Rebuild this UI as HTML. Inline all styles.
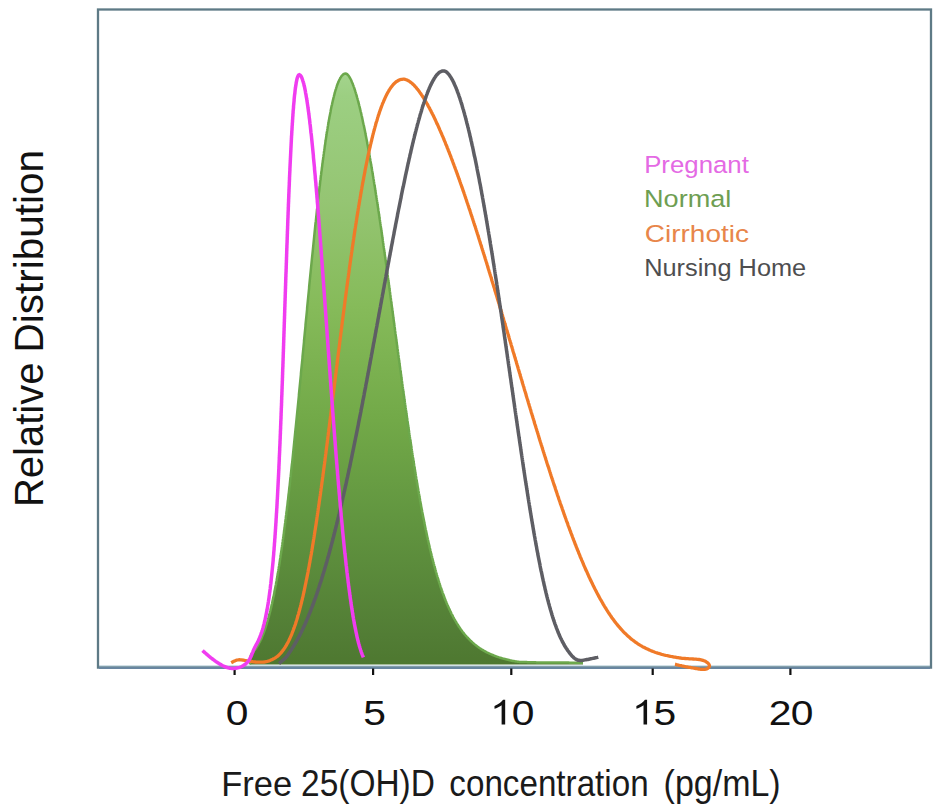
<!DOCTYPE html>
<html><head><meta charset="utf-8"><style>
html,body{margin:0;padding:0;background:#fff;}
svg{display:block;font-family:"Liberation Sans",sans-serif;}
</style></head><body>
<svg width="945" height="811" viewBox="0 0 945 811">
<defs>
<linearGradient id="gg" x1="0" y1="72" x2="0" y2="665" gradientUnits="userSpaceOnUse">
<stop offset="0" stop-color="#a4d48e"/>
<stop offset="0.04" stop-color="#9ccf82"/>
<stop offset="0.216" stop-color="#95c573"/>
<stop offset="0.393" stop-color="#86bb5a"/>
<stop offset="0.587" stop-color="#72a948"/>
<stop offset="0.747" stop-color="#629640"/>
<stop offset="0.949" stop-color="#527d35"/>
<stop offset="1" stop-color="#4e7830"/>
</linearGradient>
</defs>
<rect x="0" y="0" width="945" height="811" fill="#fff"/>
<path d="M250.0,664.5 L250.0,663.5 L250.1,662.5 L250.1,661.5 L250.1,660.5 L250.1,659.5 L250.2,658.5 L250.3,657.5 L250.5,656.6 L250.8,655.7 L251.1,654.9 L251.6,654.0 L252.1,653.3 L252.7,652.5 L253.3,651.8 L253.9,651.0 L254.5,650.3 L255.1,649.5 L255.7,648.7 L256.3,647.8 L256.8,647.0 L257.4,646.1 L257.9,645.3 L258.4,644.4 L258.8,643.5 L259.3,642.7 L259.8,641.8 L260.2,640.9 L260.6,640.0 L261.1,639.1 L261.5,638.2 L261.9,637.2 L262.3,636.3 L262.6,635.4 L263.0,634.5 L263.4,633.5 L263.7,632.6 L264.1,631.7 L264.4,630.7 L264.8,629.8 L265.1,628.8 L265.4,627.9 L265.7,626.9 L266.0,626.0 L266.3,625.0 L266.6,624.1 L266.9,623.1 L267.2,622.2 L267.5,621.2 L267.8,620.2 L268.1,619.3 L268.3,618.3 L268.6,617.4 L268.9,616.4 L269.1,615.4 L269.4,614.5 L269.6,613.5 L269.9,612.5 L270.1,611.6 L270.4,610.6 L270.6,609.6 L270.8,608.6 L271.1,607.7 L271.3,606.7 L271.5,605.7 L271.7,604.7 L272.0,603.8 L272.2,602.8 L272.4,601.8 L272.6,600.8 L272.8,599.9 L273.0,598.9 L273.2,597.9 L273.5,596.9 L273.7,596.0 L273.9,595.0 L274.1,594.0 L274.3,593.0 L274.4,592.0 L274.6,591.0 L274.8,590.1 L275.0,589.1 L275.2,588.1 L275.4,587.1 L275.6,586.1 L275.8,585.2 L276.0,584.2 L276.1,583.2 L276.3,582.2 L276.5,581.2 L276.7,580.2 L276.8,579.3 L277.0,578.3 L277.2,577.3 L277.4,576.3 L277.5,575.3 L277.7,574.3 L277.9,573.3 L278.0,572.4 L278.2,571.4 L278.4,570.4 L278.5,569.4 L278.7,568.4 L278.8,567.4 L279.0,566.4 L279.2,565.4 L279.3,564.5 L279.5,563.5 L279.6,562.5 L279.8,561.5 L279.9,560.5 L280.1,559.5 L280.2,558.5 L280.4,557.5 L280.5,556.6 L280.7,555.6 L280.8,554.6 L281.0,553.6 L281.1,552.6 L281.3,551.6 L281.4,550.6 L281.6,549.6 L281.7,548.6 L281.8,547.6 L282.0,546.7 L282.1,545.7 L282.3,544.7 L282.4,543.7 L282.5,542.7 L282.7,541.7 L282.8,540.7 L282.9,539.7 L283.1,538.7 L283.2,537.7 L283.4,536.8 L283.5,535.8 L283.6,534.8 L283.8,533.8 L283.9,532.8 L284.0,531.8 L284.1,530.8 L284.3,529.8 L284.4,528.8 L284.5,527.8 L284.7,526.8 L284.8,525.8 L284.9,524.9 L285.0,523.9 L285.2,522.9 L285.3,521.9 L285.4,520.9 L285.5,519.9 L285.7,518.9 L285.8,517.9 L285.9,516.9 L286.0,515.9 L286.2,514.9 L286.3,513.9 L286.4,512.9 L286.5,512.0 L286.7,511.0 L286.8,510.0 L286.9,509.0 L287.0,508.0 L287.1,507.0 L287.3,506.0 L287.4,505.0 L287.5,504.0 L287.6,503.0 L287.7,502.0 L287.8,501.0 L288.0,500.0 L288.1,499.0 L288.2,498.1 L288.3,497.1 L288.4,496.1 L288.5,495.1 L288.6,494.1 L288.8,493.1 L288.9,492.1 L289.0,491.1 L289.1,490.1 L289.2,489.1 L289.3,488.1 L289.4,487.1 L289.6,486.1 L289.7,485.1 L289.8,484.1 L289.9,483.1 L290.0,482.2 L290.1,481.2 L290.2,480.2 L290.3,479.2 L290.4,478.2 L290.5,477.2 L290.7,476.2 L290.8,475.2 L290.9,474.2 L291.0,473.2 L291.1,472.2 L291.2,471.2 L291.3,470.2 L291.4,469.2 L291.5,468.2 L291.6,467.2 L291.7,466.2 L291.8,465.3 L291.9,464.3 L292.1,463.3 L292.2,462.3 L292.3,461.3 L292.4,460.3 L292.5,459.3 L292.6,458.3 L292.7,457.3 L292.8,456.3 L292.9,455.3 L293.0,454.3 L293.1,453.3 L293.2,452.3 L293.3,451.3 L293.4,450.3 L293.5,449.3 L293.6,448.3 L293.7,447.4 L293.8,446.4 L293.9,445.4 L294.0,444.4 L294.1,443.4 L294.2,442.4 L294.3,441.4 L294.4,440.4 L294.5,439.4 L294.6,438.4 L294.7,437.4 L294.8,436.4 L294.9,435.4 L295.0,434.4 L295.1,433.4 L295.2,432.4 L295.3,431.4 L295.4,430.4 L295.5,429.4 L295.6,428.5 L295.7,427.5 L295.8,426.5 L295.9,425.5 L296.0,424.5 L296.1,423.5 L296.2,422.5 L296.3,421.5 L296.4,420.5 L296.5,419.5 L296.6,418.5 L296.7,417.5 L296.8,416.5 L296.9,415.5 L297.0,414.5 L297.1,413.5 L297.2,412.5 L297.3,411.5 L297.4,410.5 L297.5,409.5 L297.6,408.5 L297.7,407.6 L297.8,406.6 L297.9,405.6 L298.0,404.6 L298.1,403.6 L298.2,402.6 L298.3,401.6 L298.4,400.6 L298.5,399.6 L298.6,398.6 L298.7,397.6 L298.8,396.6 L298.9,395.6 L298.9,394.6 L299.0,393.6 L299.1,392.6 L299.2,391.6 L299.3,390.6 L299.4,389.6 L299.5,388.6 L299.6,387.6 L299.7,386.6 L299.8,385.7 L299.9,384.7 L300.0,383.7 L300.1,382.7 L300.2,381.7 L300.3,380.7 L300.4,379.7 L300.5,378.7 L300.6,377.7 L300.7,376.7 L300.8,375.7 L300.9,374.7 L300.9,373.7 L301.0,372.7 L301.1,371.7 L301.2,370.7 L301.3,369.7 L301.4,368.7 L301.5,367.7 L301.6,366.7 L301.7,365.7 L301.8,364.7 L301.9,363.8 L302.0,362.8 L302.1,361.8 L302.2,360.8 L302.3,359.8 L302.4,358.8 L302.5,357.8 L302.5,356.8 L302.6,355.8 L302.7,354.8 L302.8,353.8 L302.9,352.8 L303.0,351.8 L303.1,350.8 L303.2,349.8 L303.3,348.8 L303.4,347.8 L303.5,346.8 L303.6,345.8 L303.7,344.8 L303.8,343.8 L303.9,342.8 L304.0,341.8 L304.0,340.9 L304.1,339.9 L304.2,338.9 L304.3,337.9 L304.4,336.9 L304.5,335.9 L304.6,334.9 L304.7,333.9 L304.8,332.9 L304.9,331.9 L305.0,330.9 L305.1,329.9 L305.2,328.9 L305.3,327.9 L305.4,326.9 L305.5,325.9 L305.5,324.9 L305.6,323.9 L305.7,322.9 L305.8,321.9 L305.9,320.9 L306.0,319.9 L306.1,319.0 L306.2,318.0 L306.3,317.0 L306.4,316.0 L306.5,315.0 L306.6,314.0 L306.7,313.0 L306.8,312.0 L306.9,311.0 L307.0,310.0 L307.1,309.0 L307.1,308.0 L307.2,307.0 L307.3,306.0 L307.4,305.0 L307.5,304.0 L307.6,303.0 L307.7,302.0 L307.8,301.0 L307.9,300.0 L308.0,299.0 L308.1,298.0 L308.2,297.0 L308.3,296.1 L308.4,295.1 L308.5,294.1 L308.6,293.1 L308.7,292.1 L308.8,291.1 L308.9,290.1 L309.0,289.1 L309.1,288.1 L309.1,287.1 L309.2,286.1 L309.3,285.1 L309.4,284.1 L309.5,283.1 L309.6,282.1 L309.7,281.1 L309.8,280.1 L309.9,279.1 L310.0,278.1 L310.1,277.1 L310.2,276.1 L310.3,275.2 L310.4,274.2 L310.5,273.2 L310.6,272.2 L310.7,271.2 L310.8,270.2 L310.9,269.2 L311.0,268.2 L311.1,267.2 L311.2,266.2 L311.3,265.2 L311.4,264.2 L311.5,263.2 L311.6,262.2 L311.7,261.2 L311.8,260.2 L311.9,259.2 L312.0,258.2 L312.1,257.2 L312.2,256.2 L312.3,255.2 L312.4,254.3 L312.5,253.3 L312.6,252.3 L312.7,251.3 L312.8,250.3 L312.9,249.3 L313.0,248.3 L313.1,247.3 L313.2,246.3 L313.3,245.3 L313.4,244.3 L313.5,243.3 L313.6,242.3 L313.7,241.3 L313.8,240.3 L313.9,239.3 L314.0,238.3 L314.1,237.3 L314.2,236.3 L314.3,235.4 L314.4,234.4 L314.5,233.4 L314.6,232.4 L314.7,231.4 L314.8,230.4 L314.9,229.4 L315.0,228.4 L315.1,227.4 L315.2,226.4 L315.3,225.4 L315.4,224.4 L315.5,223.4 L315.6,222.4 L315.8,221.4 L315.9,220.4 L316.0,219.4 L316.1,218.4 L316.2,217.4 L316.3,216.5 L316.4,215.5 L316.5,214.5 L316.6,213.5 L316.7,212.5 L316.8,211.5 L316.9,210.5 L317.0,209.5 L317.2,208.5 L317.3,207.5 L317.4,206.5 L317.5,205.5 L317.6,204.5 L317.7,203.5 L317.8,202.5 L317.9,201.5 L318.0,200.6 L318.1,199.6 L318.3,198.6 L318.4,197.6 L318.5,196.6 L318.6,195.6 L318.7,194.6 L318.8,193.6 L318.9,192.6 L319.1,191.6 L319.2,190.6 L319.3,189.6 L319.4,188.6 L319.5,187.6 L319.6,186.6 L319.8,185.7 L319.9,184.7 L320.0,183.7 L320.1,182.7 L320.2,181.7 L320.3,180.7 L320.5,179.7 L320.6,178.7 L320.7,177.7 L320.8,176.7 L320.9,175.7 L321.1,174.7 L321.2,173.7 L321.3,172.7 L321.4,171.8 L321.6,170.8 L321.7,169.8 L321.8,168.8 L321.9,167.8 L322.1,166.8 L322.2,165.8 L322.3,164.8 L322.4,163.8 L322.6,162.8 L322.7,161.8 L322.8,160.8 L323.0,159.8 L323.1,158.9 L323.2,157.9 L323.4,156.9 L323.5,155.9 L323.6,154.9 L323.8,153.9 L323.9,152.9 L324.0,151.9 L324.2,150.9 L324.3,149.9 L324.5,149.0 L324.6,148.0 L324.7,147.0 L324.9,146.0 L325.0,145.0 L325.2,144.0 L325.3,143.0 L325.4,142.0 L325.6,141.0 L325.7,140.0 L325.9,139.1 L326.0,138.1 L326.2,137.1 L326.3,136.1 L326.5,135.1 L326.6,134.1 L326.8,133.1 L326.9,132.1 L327.1,131.1 L327.3,130.2 L327.4,129.2 L327.6,128.2 L327.7,127.2 L327.9,126.2 L328.1,125.2 L328.2,124.2 L328.4,123.3 L328.6,122.3 L328.7,121.3 L328.9,120.3 L329.1,119.3 L329.3,118.3 L329.4,117.3 L329.6,116.4 L329.8,115.4 L330.0,114.4 L330.2,113.4 L330.4,112.4 L330.6,111.4 L330.7,110.5 L330.9,109.5 L331.1,108.5 L331.3,107.5 L331.5,106.5 L331.7,105.6 L332.0,104.6 L332.2,103.6 L332.4,102.6 L332.6,101.7 L332.8,100.7 L333.1,99.7 L333.3,98.7 L333.5,97.8 L333.8,96.8 L334.0,95.8 L334.3,94.9 L334.5,93.9 L334.8,92.9 L335.0,92.0 L335.3,91.0 L335.6,90.0 L335.9,89.1 L336.2,88.1 L336.5,87.2 L336.8,86.2 L337.1,85.3 L337.5,84.3 L337.8,83.4 L338.2,82.5 L338.6,81.6 L339.0,80.6 L339.4,79.7 L339.9,78.8 L340.3,78.0 L340.9,77.1 L341.4,76.3 L342.1,75.5 L342.8,74.8 L343.6,74.2 L344.5,73.8 L345.4,73.6 L346.4,73.8 L347.3,74.3 L348.0,75.0 L348.6,75.8 L349.2,76.6 L349.7,77.5 L350.2,78.3 L350.7,79.2 L351.1,80.1 L351.5,81.0 L351.9,82.0 L352.3,82.9 L352.7,83.8 L353.0,84.7 L353.4,85.7 L353.7,86.6 L354.1,87.6 L354.4,88.5 L354.7,89.5 L355.0,90.4 L355.3,91.4 L355.6,92.3 L355.9,93.3 L356.2,94.2 L356.5,95.2 L356.7,96.2 L357.0,97.1 L357.3,98.1 L357.6,99.0 L357.8,100.0 L358.1,101.0 L358.3,101.9 L358.6,102.9 L358.8,103.9 L359.1,104.8 L359.3,105.8 L359.6,106.8 L359.8,107.8 L360.0,108.7 L360.3,109.7 L360.5,110.7 L360.7,111.6 L361.0,112.6 L361.2,113.6 L361.4,114.6 L361.6,115.5 L361.9,116.5 L362.1,117.5 L362.3,118.5 L362.5,119.4 L362.7,120.4 L362.9,121.4 L363.1,122.4 L363.3,123.4 L363.5,124.3 L363.8,125.3 L364.0,126.3 L364.2,127.3 L364.4,128.3 L364.6,129.2 L364.8,130.2 L365.0,131.2 L365.2,132.2 L365.4,133.2 L365.5,134.1 L365.7,135.1 L365.9,136.1 L366.1,137.1 L366.3,138.1 L366.5,139.0 L366.7,140.0 L366.9,141.0 L367.1,142.0 L367.2,143.0 L367.4,144.0 L367.6,144.9 L367.8,145.9 L368.0,146.9 L368.2,147.9 L368.3,148.9 L368.5,149.9 L368.7,150.8 L368.9,151.8 L369.1,152.8 L369.2,153.8 L369.4,154.8 L369.6,155.8 L369.8,156.7 L369.9,157.7 L370.1,158.7 L370.3,159.7 L370.4,160.7 L370.6,161.7 L370.8,162.7 L371.0,163.6 L371.1,164.6 L371.3,165.6 L371.5,166.6 L371.6,167.6 L371.8,168.6 L372.0,169.6 L372.1,170.5 L372.3,171.5 L372.5,172.5 L372.6,173.5 L372.8,174.5 L372.9,175.5 L373.1,176.5 L373.3,177.4 L373.4,178.4 L373.6,179.4 L373.8,180.4 L373.9,181.4 L374.1,182.4 L374.2,183.4 L374.4,184.4 L374.5,185.3 L374.7,186.3 L374.9,187.3 L375.0,188.3 L375.2,189.3 L375.3,190.3 L375.5,191.3 L375.6,192.3 L375.8,193.2 L375.9,194.2 L376.1,195.2 L376.3,196.2 L376.4,197.2 L376.6,198.2 L376.7,199.2 L376.9,200.2 L377.0,201.2 L377.2,202.1 L377.3,203.1 L377.5,204.1 L377.6,205.1 L377.8,206.1 L377.9,207.1 L378.1,208.1 L378.2,209.1 L378.4,210.1 L378.5,211.0 L378.7,212.0 L378.8,213.0 L379.0,214.0 L379.1,215.0 L379.3,216.0 L379.4,217.0 L379.5,218.0 L379.7,219.0 L379.8,219.9 L380.0,220.9 L380.1,221.9 L380.3,222.9 L380.4,223.9 L380.6,224.9 L380.7,225.9 L380.9,226.9 L381.0,227.9 L381.1,228.8 L381.3,229.8 L381.4,230.8 L381.6,231.8 L381.7,232.8 L381.9,233.8 L382.0,234.8 L382.1,235.8 L382.3,236.8 L382.4,237.8 L382.6,238.7 L382.7,239.7 L382.8,240.7 L383.0,241.7 L383.1,242.7 L383.3,243.7 L383.4,244.7 L383.5,245.7 L383.7,246.7 L383.8,247.7 L384.0,248.6 L384.1,249.6 L384.2,250.6 L384.4,251.6 L384.5,252.6 L384.7,253.6 L384.8,254.6 L384.9,255.6 L385.1,256.6 L385.2,257.6 L385.4,258.6 L385.5,259.5 L385.6,260.5 L385.8,261.5 L385.9,262.5 L386.0,263.5 L386.2,264.5 L386.3,265.5 L386.4,266.5 L386.6,267.5 L386.7,268.5 L386.9,269.4 L387.0,270.4 L387.1,271.4 L387.3,272.4 L387.4,273.4 L387.5,274.4 L387.7,275.4 L387.8,276.4 L387.9,277.4 L388.1,278.4 L388.2,279.4 L388.3,280.3 L388.5,281.3 L388.6,282.3 L388.8,283.3 L388.9,284.3 L389.0,285.3 L389.2,286.3 L389.3,287.3 L389.4,288.3 L389.6,289.3 L389.7,290.3 L389.8,291.2 L390.0,292.2 L390.1,293.2 L390.2,294.2 L390.4,295.2 L390.5,296.2 L390.6,297.2 L390.8,298.2 L390.9,299.2 L391.0,300.2 L391.2,301.2 L391.3,302.1 L391.4,303.1 L391.6,304.1 L391.7,305.1 L391.8,306.1 L392.0,307.1 L392.1,308.1 L392.2,309.1 L392.4,310.1 L392.5,311.1 L392.6,312.1 L392.8,313.0 L392.9,314.0 L393.0,315.0 L393.2,316.0 L393.3,317.0 L393.4,318.0 L393.6,319.0 L393.7,320.0 L393.8,321.0 L394.0,322.0 L394.1,323.0 L394.2,324.0 L394.4,324.9 L394.5,325.9 L394.6,326.9 L394.8,327.9 L394.9,328.9 L395.0,329.9 L395.1,330.9 L395.3,331.9 L395.4,332.9 L395.5,333.9 L395.7,334.9 L395.8,335.8 L395.9,336.8 L396.1,337.8 L396.2,338.8 L396.3,339.8 L396.5,340.8 L396.6,341.8 L396.7,342.8 L396.9,343.8 L397.0,344.8 L397.1,345.8 L397.3,346.7 L397.4,347.7 L397.5,348.7 L397.7,349.7 L397.8,350.7 L397.9,351.7 L398.1,352.7 L398.2,353.7 L398.3,354.7 L398.5,355.7 L398.6,356.7 L398.7,357.7 L398.9,358.6 L399.0,359.6 L399.1,360.6 L399.3,361.6 L399.4,362.6 L399.5,363.6 L399.7,364.6 L399.8,365.6 L399.9,366.6 L400.1,367.6 L400.2,368.6 L400.3,369.5 L400.5,370.5 L400.6,371.5 L400.8,372.5 L400.9,373.5 L401.0,374.5 L401.2,375.5 L401.3,376.5 L401.4,377.5 L401.6,378.5 L401.7,379.5 L401.8,380.4 L402.0,381.4 L402.1,382.4 L402.2,383.4 L402.4,384.4 L402.5,385.4 L402.6,386.4 L402.8,387.4 L402.9,388.4 L403.1,389.4 L403.2,390.3 L403.3,391.3 L403.5,392.3 L403.6,393.3 L403.7,394.3 L403.9,395.3 L404.0,396.3 L404.2,397.3 L404.3,398.3 L404.4,399.3 L404.6,400.3 L404.7,401.2 L404.8,402.2 L405.0,403.2 L405.1,404.2 L405.3,405.2 L405.4,406.2 L405.5,407.2 L405.7,408.2 L405.8,409.2 L406.0,410.2 L406.1,411.1 L406.2,412.1 L406.4,413.1 L406.5,414.1 L406.7,415.1 L406.8,416.1 L406.9,417.1 L407.1,418.1 L407.2,419.1 L407.4,420.1 L407.5,421.0 L407.7,422.0 L407.8,423.0 L407.9,424.0 L408.1,425.0 L408.2,426.0 L408.4,427.0 L408.5,428.0 L408.7,429.0 L408.8,430.0 L409.0,430.9 L409.1,431.9 L409.2,432.9 L409.4,433.9 L409.5,434.9 L409.7,435.9 L409.8,436.9 L410.0,437.9 L410.1,438.9 L410.3,439.8 L410.4,440.8 L410.6,441.8 L410.7,442.8 L410.9,443.8 L411.0,444.8 L411.2,445.8 L411.3,446.8 L411.5,447.8 L411.6,448.7 L411.8,449.7 L411.9,450.7 L412.1,451.7 L412.2,452.7 L412.4,453.7 L412.5,454.7 L412.7,455.7 L412.8,456.7 L413.0,457.6 L413.1,458.6 L413.3,459.6 L413.5,460.6 L413.6,461.6 L413.8,462.6 L413.9,463.6 L414.1,464.6 L414.2,465.5 L414.4,466.5 L414.5,467.5 L414.7,468.5 L414.9,469.5 L415.0,470.5 L415.2,471.5 L415.3,472.5 L415.5,473.4 L415.7,474.4 L415.8,475.4 L416.0,476.4 L416.2,477.4 L416.3,478.4 L416.5,479.4 L416.6,480.3 L416.8,481.3 L417.0,482.3 L417.1,483.3 L417.3,484.3 L417.5,485.3 L417.6,486.3 L417.8,487.2 L418.0,488.2 L418.2,489.2 L418.3,490.2 L418.5,491.2 L418.7,492.2 L418.8,493.2 L419.0,494.1 L419.2,495.1 L419.4,496.1 L419.5,497.1 L419.7,498.1 L419.9,499.1 L420.1,500.1 L420.2,501.0 L420.4,502.0 L420.6,503.0 L420.8,504.0 L421.0,505.0 L421.1,506.0 L421.3,506.9 L421.5,507.9 L421.7,508.9 L421.9,509.9 L422.1,510.9 L422.2,511.9 L422.4,512.8 L422.6,513.8 L422.8,514.8 L423.0,515.8 L423.2,516.8 L423.4,517.7 L423.6,518.7 L423.8,519.7 L424.0,520.7 L424.2,521.7 L424.3,522.6 L424.5,523.6 L424.7,524.6 L424.9,525.6 L425.1,526.6 L425.3,527.5 L425.5,528.5 L425.7,529.5 L426.0,530.5 L426.2,531.5 L426.4,532.4 L426.6,533.4 L426.8,534.4 L427.0,535.4 L427.2,536.4 L427.4,537.3 L427.6,538.3 L427.8,539.3 L428.1,540.3 L428.3,541.2 L428.5,542.2 L428.7,543.2 L428.9,544.2 L429.2,545.1 L429.4,546.1 L429.6,547.1 L429.8,548.1 L430.1,549.0 L430.3,550.0 L430.5,551.0 L430.8,552.0 L431.0,552.9 L431.2,553.9 L431.5,554.9 L431.7,555.8 L432.0,556.8 L432.2,557.8 L432.5,558.7 L432.7,559.7 L432.9,560.7 L433.2,561.7 L433.5,562.6 L433.7,563.6 L434.0,564.6 L434.2,565.5 L434.5,566.5 L434.8,567.4 L435.0,568.4 L435.3,569.4 L435.6,570.3 L435.8,571.3 L436.1,572.3 L436.4,573.2 L436.7,574.2 L436.9,575.1 L437.2,576.1 L437.5,577.1 L437.8,578.0 L438.1,579.0 L438.4,579.9 L438.7,580.9 L439.0,581.8 L439.3,582.8 L439.6,583.7 L439.9,584.7 L440.2,585.6 L440.5,586.6 L440.8,587.5 L441.2,588.5 L441.5,589.4 L441.8,590.4 L442.2,591.3 L442.5,592.3 L442.8,593.2 L443.2,594.1 L443.5,595.1 L443.9,596.0 L444.2,597.0 L444.6,597.9 L444.9,598.8 L445.3,599.7 L445.7,600.7 L446.1,601.6 L446.4,602.5 L446.8,603.4 L447.2,604.4 L447.6,605.3 L448.0,606.2 L448.4,607.1 L448.8,608.0 L449.2,608.9 L449.7,609.9 L450.1,610.8 L450.5,611.7 L451.0,612.6 L451.4,613.5 L451.8,614.3 L452.3,615.2 L452.8,616.1 L453.2,617.0 L453.7,617.9 L454.2,618.8 L454.7,619.6 L455.2,620.5 L455.7,621.4 L456.2,622.2 L456.7,623.1 L457.2,623.9 L457.8,624.8 L458.3,625.6 L458.8,626.5 L459.4,627.3 L460.0,628.1 L460.5,628.9 L461.1,629.8 L461.7,630.6 L462.3,631.4 L462.9,632.2 L463.5,632.9 L464.1,633.7 L464.8,634.5 L465.4,635.3 L466.1,636.0 L466.7,636.8 L467.4,637.5 L468.1,638.2 L468.8,639.0 L469.5,639.7 L470.2,640.4 L470.9,641.1 L471.7,641.7 L472.4,642.4 L473.2,643.1 L473.9,643.7 L474.7,644.4 L475.5,645.0 L476.2,645.6 L477.0,646.2 L477.8,646.8 L478.7,647.4 L479.5,648.0 L480.3,648.5 L481.2,649.1 L482.0,649.6 L482.9,650.1 L483.7,650.6 L484.6,651.1 L485.5,651.6 L486.3,652.1 L487.2,652.5 L488.1,653.0 L489.0,653.4 L489.9,653.8 L490.8,654.2 L491.8,654.6 L492.7,655.0 L493.6,655.4 L494.5,655.8 L495.5,656.1 L496.4,656.5 L497.3,656.8 L498.3,657.1 L499.2,657.4 L500.2,657.7 L501.2,658.0 L502.1,658.3 L503.1,658.6 L504.0,658.8 L505.0,659.1 L506.0,659.3 L506.9,659.6 L507.9,659.8 L508.9,660.0 L509.9,660.3 L510.8,660.5 L511.8,660.7 L512.8,660.9 L513.8,661.1 L514.7,661.3 L515.7,661.5 L516.7,661.6 L517.6,661.7 L518.6,661.8 L519.6,661.9 L520.6,661.9 L521.6,662.0 L522.6,662.0 L523.6,662.1 L524.6,662.1 L525.6,662.1 L526.6,662.1 L527.6,662.2 L528.6,662.2 L529.6,662.2 L530.6,662.2 L531.6,662.3 L532.6,662.3 L533.6,662.3 L534.6,662.3 L535.6,662.3 L536.6,662.4 L537.6,662.4 L538.6,662.4 L539.6,662.4 L540.6,662.4 L541.6,662.5 L542.6,662.5 L543.6,662.5 L544.6,662.5 L545.6,662.5 L546.6,662.5 L547.6,662.5 L548.6,662.5 L549.6,662.5 L550.6,662.6 L551.6,662.6 L552.6,662.6 L553.6,662.6 L554.6,662.6 L555.6,662.6 L556.6,662.6 L557.6,662.6 L558.6,662.6 L559.6,662.6 L560.6,662.6 L561.6,662.6 L562.6,662.6 L563.6,662.6 L564.6,662.6 L565.6,662.6 L566.6,662.6 L567.6,662.6 L568.6,662.6 L569.6,662.7 L570.6,662.7 L571.6,662.7 L572.6,662.7 L573.6,662.7 L574.6,662.7 L575.6,662.7 L576.6,662.7 L577.6,662.7 L578.6,662.7 L579.6,662.7 L580.5,662.7 L581.5,662.7 L582.4,662.7 L583.0,662.7 L583,664.5 L250,664.5 Z" fill="url(#gg)" stroke="none"/>
<rect x="98" y="665.4" width="833" height="1.6" fill="#b4ccd8"/>
<rect x="98" y="9.5" width="833" height="658.1" fill="none" stroke="#5e7a86" stroke-width="2.3"/>
<line x1="99" y1="667.9" x2="930" y2="667.9" stroke="#6886a0" stroke-width="2"/>
<rect x="233.5" y="668.5" width="2.2" height="6.5" fill="#111"/><rect x="372.0" y="668.5" width="2.2" height="6.5" fill="#111"/><rect x="510.2" y="668.5" width="2.2" height="6.5" fill="#111"/><rect x="651.6" y="668.5" width="2.2" height="6.5" fill="#111"/><rect x="789.3" y="668.5" width="2.2" height="6.5" fill="#111"/>
<path d="M250.0,664.5 L250.0,663.5 L250.1,662.5 L250.1,661.5 L250.1,660.5 L250.1,659.5 L250.2,658.5 L250.3,657.5 L250.5,656.6 L250.8,655.7 L251.1,654.9 L251.6,654.0 L252.1,653.3 L252.7,652.5 L253.3,651.8 L253.9,651.0 L254.5,650.3 L255.1,649.5 L255.7,648.7 L256.3,647.8 L256.8,647.0 L257.4,646.1 L257.9,645.3 L258.4,644.4 L258.8,643.5 L259.3,642.7 L259.8,641.8 L260.2,640.9 L260.6,640.0 L261.1,639.1 L261.5,638.2 L261.9,637.2 L262.3,636.3 L262.6,635.4 L263.0,634.5 L263.4,633.5 L263.7,632.6 L264.1,631.7 L264.4,630.7 L264.8,629.8 L265.1,628.8 L265.4,627.9 L265.7,626.9 L266.0,626.0 L266.3,625.0 L266.6,624.1 L266.9,623.1 L267.2,622.2 L267.5,621.2 L267.8,620.2 L268.1,619.3 L268.3,618.3 L268.6,617.4 L268.9,616.4 L269.1,615.4 L269.4,614.5 L269.6,613.5 L269.9,612.5 L270.1,611.6 L270.4,610.6 L270.6,609.6 L270.8,608.6 L271.1,607.7 L271.3,606.7 L271.5,605.7 L271.7,604.7 L272.0,603.8 L272.2,602.8 L272.4,601.8 L272.6,600.8 L272.8,599.9 L273.0,598.9 L273.2,597.9 L273.5,596.9 L273.7,596.0 L273.9,595.0 L274.1,594.0 L274.3,593.0 L274.4,592.0 L274.6,591.0 L274.8,590.1 L275.0,589.1 L275.2,588.1 L275.4,587.1 L275.6,586.1 L275.8,585.2 L276.0,584.2 L276.1,583.2 L276.3,582.2 L276.5,581.2 L276.7,580.2 L276.8,579.3 L277.0,578.3 L277.2,577.3 L277.4,576.3 L277.5,575.3 L277.7,574.3 L277.9,573.3 L278.0,572.4 L278.2,571.4 L278.4,570.4 L278.5,569.4 L278.7,568.4 L278.8,567.4 L279.0,566.4 L279.2,565.4 L279.3,564.5 L279.5,563.5 L279.6,562.5 L279.8,561.5 L279.9,560.5 L280.1,559.5 L280.2,558.5 L280.4,557.5 L280.5,556.6 L280.7,555.6 L280.8,554.6 L281.0,553.6 L281.1,552.6 L281.3,551.6 L281.4,550.6 L281.6,549.6 L281.7,548.6 L281.8,547.6 L282.0,546.7 L282.1,545.7 L282.3,544.7 L282.4,543.7 L282.5,542.7 L282.7,541.7 L282.8,540.7 L282.9,539.7 L283.1,538.7 L283.2,537.7 L283.4,536.8 L283.5,535.8 L283.6,534.8 L283.8,533.8 L283.9,532.8 L284.0,531.8 L284.1,530.8 L284.3,529.8 L284.4,528.8 L284.5,527.8 L284.7,526.8 L284.8,525.8 L284.9,524.9 L285.0,523.9 L285.2,522.9 L285.3,521.9 L285.4,520.9 L285.5,519.9 L285.7,518.9 L285.8,517.9 L285.9,516.9 L286.0,515.9 L286.2,514.9 L286.3,513.9 L286.4,512.9 L286.5,512.0 L286.7,511.0 L286.8,510.0 L286.9,509.0 L287.0,508.0 L287.1,507.0 L287.3,506.0 L287.4,505.0 L287.5,504.0 L287.6,503.0 L287.7,502.0 L287.8,501.0 L288.0,500.0 L288.1,499.0 L288.2,498.1 L288.3,497.1 L288.4,496.1 L288.5,495.1 L288.6,494.1 L288.8,493.1 L288.9,492.1 L289.0,491.1 L289.1,490.1 L289.2,489.1 L289.3,488.1 L289.4,487.1 L289.6,486.1 L289.7,485.1 L289.8,484.1 L289.9,483.1 L290.0,482.2 L290.1,481.2 L290.2,480.2 L290.3,479.2 L290.4,478.2 L290.5,477.2 L290.7,476.2 L290.8,475.2 L290.9,474.2 L291.0,473.2 L291.1,472.2 L291.2,471.2 L291.3,470.2 L291.4,469.2 L291.5,468.2 L291.6,467.2 L291.7,466.2 L291.8,465.3 L291.9,464.3 L292.1,463.3 L292.2,462.3 L292.3,461.3 L292.4,460.3 L292.5,459.3 L292.6,458.3 L292.7,457.3 L292.8,456.3 L292.9,455.3 L293.0,454.3 L293.1,453.3 L293.2,452.3 L293.3,451.3 L293.4,450.3 L293.5,449.3 L293.6,448.3 L293.7,447.4 L293.8,446.4 L293.9,445.4 L294.0,444.4 L294.1,443.4 L294.2,442.4 L294.3,441.4 L294.4,440.4 L294.5,439.4 L294.6,438.4 L294.7,437.4 L294.8,436.4 L294.9,435.4 L295.0,434.4 L295.1,433.4 L295.2,432.4 L295.3,431.4 L295.4,430.4 L295.5,429.4 L295.6,428.5 L295.7,427.5 L295.8,426.5 L295.9,425.5 L296.0,424.5 L296.1,423.5 L296.2,422.5 L296.3,421.5 L296.4,420.5 L296.5,419.5 L296.6,418.5 L296.7,417.5 L296.8,416.5 L296.9,415.5 L297.0,414.5 L297.1,413.5 L297.2,412.5 L297.3,411.5 L297.4,410.5 L297.5,409.5 L297.6,408.5 L297.7,407.6 L297.8,406.6 L297.9,405.6 L298.0,404.6 L298.1,403.6 L298.2,402.6 L298.3,401.6 L298.4,400.6 L298.5,399.6 L298.6,398.6 L298.7,397.6 L298.8,396.6 L298.9,395.6 L298.9,394.6 L299.0,393.6 L299.1,392.6 L299.2,391.6 L299.3,390.6 L299.4,389.6 L299.5,388.6 L299.6,387.6 L299.7,386.6 L299.8,385.7 L299.9,384.7 L300.0,383.7 L300.1,382.7 L300.2,381.7 L300.3,380.7 L300.4,379.7 L300.5,378.7 L300.6,377.7 L300.7,376.7 L300.8,375.7 L300.9,374.7 L300.9,373.7 L301.0,372.7 L301.1,371.7 L301.2,370.7 L301.3,369.7 L301.4,368.7 L301.5,367.7 L301.6,366.7 L301.7,365.7 L301.8,364.7 L301.9,363.8 L302.0,362.8 L302.1,361.8 L302.2,360.8 L302.3,359.8 L302.4,358.8 L302.5,357.8 L302.5,356.8 L302.6,355.8 L302.7,354.8 L302.8,353.8 L302.9,352.8 L303.0,351.8 L303.1,350.8 L303.2,349.8 L303.3,348.8 L303.4,347.8 L303.5,346.8 L303.6,345.8 L303.7,344.8 L303.8,343.8 L303.9,342.8 L304.0,341.8 L304.0,340.9 L304.1,339.9 L304.2,338.9 L304.3,337.9 L304.4,336.9 L304.5,335.9 L304.6,334.9 L304.7,333.9 L304.8,332.9 L304.9,331.9 L305.0,330.9 L305.1,329.9 L305.2,328.9 L305.3,327.9 L305.4,326.9 L305.5,325.9 L305.5,324.9 L305.6,323.9 L305.7,322.9 L305.8,321.9 L305.9,320.9 L306.0,319.9 L306.1,319.0 L306.2,318.0 L306.3,317.0 L306.4,316.0 L306.5,315.0 L306.6,314.0 L306.7,313.0 L306.8,312.0 L306.9,311.0 L307.0,310.0 L307.1,309.0 L307.1,308.0 L307.2,307.0 L307.3,306.0 L307.4,305.0 L307.5,304.0 L307.6,303.0 L307.7,302.0 L307.8,301.0 L307.9,300.0 L308.0,299.0 L308.1,298.0 L308.2,297.0 L308.3,296.1 L308.4,295.1 L308.5,294.1 L308.6,293.1 L308.7,292.1 L308.8,291.1 L308.9,290.1 L309.0,289.1 L309.1,288.1 L309.1,287.1 L309.2,286.1 L309.3,285.1 L309.4,284.1 L309.5,283.1 L309.6,282.1 L309.7,281.1 L309.8,280.1 L309.9,279.1 L310.0,278.1 L310.1,277.1 L310.2,276.1 L310.3,275.2 L310.4,274.2 L310.5,273.2 L310.6,272.2 L310.7,271.2 L310.8,270.2 L310.9,269.2 L311.0,268.2 L311.1,267.2 L311.2,266.2 L311.3,265.2 L311.4,264.2 L311.5,263.2 L311.6,262.2 L311.7,261.2 L311.8,260.2 L311.9,259.2 L312.0,258.2 L312.1,257.2 L312.2,256.2 L312.3,255.2 L312.4,254.3 L312.5,253.3 L312.6,252.3 L312.7,251.3 L312.8,250.3 L312.9,249.3 L313.0,248.3 L313.1,247.3 L313.2,246.3 L313.3,245.3 L313.4,244.3 L313.5,243.3 L313.6,242.3 L313.7,241.3 L313.8,240.3 L313.9,239.3 L314.0,238.3 L314.1,237.3 L314.2,236.3 L314.3,235.4 L314.4,234.4 L314.5,233.4 L314.6,232.4 L314.7,231.4 L314.8,230.4 L314.9,229.4 L315.0,228.4 L315.1,227.4 L315.2,226.4 L315.3,225.4 L315.4,224.4 L315.5,223.4 L315.6,222.4 L315.8,221.4 L315.9,220.4 L316.0,219.4 L316.1,218.4 L316.2,217.4 L316.3,216.5 L316.4,215.5 L316.5,214.5 L316.6,213.5 L316.7,212.5 L316.8,211.5 L316.9,210.5 L317.0,209.5 L317.2,208.5 L317.3,207.5 L317.4,206.5 L317.5,205.5 L317.6,204.5 L317.7,203.5 L317.8,202.5 L317.9,201.5 L318.0,200.6 L318.1,199.6 L318.3,198.6 L318.4,197.6 L318.5,196.6 L318.6,195.6 L318.7,194.6 L318.8,193.6 L318.9,192.6 L319.1,191.6 L319.2,190.6 L319.3,189.6 L319.4,188.6 L319.5,187.6 L319.6,186.6 L319.8,185.7 L319.9,184.7 L320.0,183.7 L320.1,182.7 L320.2,181.7 L320.3,180.7 L320.5,179.7 L320.6,178.7 L320.7,177.7 L320.8,176.7 L320.9,175.7 L321.1,174.7 L321.2,173.7 L321.3,172.7 L321.4,171.8 L321.6,170.8 L321.7,169.8 L321.8,168.8 L321.9,167.8 L322.1,166.8 L322.2,165.8 L322.3,164.8 L322.4,163.8 L322.6,162.8 L322.7,161.8 L322.8,160.8 L323.0,159.8 L323.1,158.9 L323.2,157.9 L323.4,156.9 L323.5,155.9 L323.6,154.9 L323.8,153.9 L323.9,152.9 L324.0,151.9 L324.2,150.9 L324.3,149.9 L324.5,149.0 L324.6,148.0 L324.7,147.0 L324.9,146.0 L325.0,145.0 L325.2,144.0 L325.3,143.0 L325.4,142.0 L325.6,141.0 L325.7,140.0 L325.9,139.1 L326.0,138.1 L326.2,137.1 L326.3,136.1 L326.5,135.1 L326.6,134.1 L326.8,133.1 L326.9,132.1 L327.1,131.1 L327.3,130.2 L327.4,129.2 L327.6,128.2 L327.7,127.2 L327.9,126.2 L328.1,125.2 L328.2,124.2 L328.4,123.3 L328.6,122.3 L328.7,121.3 L328.9,120.3 L329.1,119.3 L329.3,118.3 L329.4,117.3 L329.6,116.4 L329.8,115.4 L330.0,114.4 L330.2,113.4 L330.4,112.4 L330.6,111.4 L330.7,110.5 L330.9,109.5 L331.1,108.5 L331.3,107.5 L331.5,106.5 L331.7,105.6 L332.0,104.6 L332.2,103.6 L332.4,102.6 L332.6,101.7 L332.8,100.7 L333.1,99.7 L333.3,98.7 L333.5,97.8 L333.8,96.8 L334.0,95.8 L334.3,94.9 L334.5,93.9 L334.8,92.9 L335.0,92.0 L335.3,91.0 L335.6,90.0 L335.9,89.1 L336.2,88.1 L336.5,87.2 L336.8,86.2 L337.1,85.3 L337.5,84.3 L337.8,83.4 L338.2,82.5 L338.6,81.6 L339.0,80.6 L339.4,79.7 L339.9,78.8 L340.3,78.0 L340.9,77.1 L341.4,76.3 L342.1,75.5 L342.8,74.8 L343.6,74.2 L344.5,73.8 L345.4,73.6 L346.4,73.8 L347.3,74.3 L348.0,75.0 L348.6,75.8 L349.2,76.6 L349.7,77.5 L350.2,78.3 L350.7,79.2 L351.1,80.1 L351.5,81.0 L351.9,82.0 L352.3,82.9 L352.7,83.8 L353.0,84.7 L353.4,85.7 L353.7,86.6 L354.1,87.6 L354.4,88.5 L354.7,89.5 L355.0,90.4 L355.3,91.4 L355.6,92.3 L355.9,93.3 L356.2,94.2 L356.5,95.2 L356.7,96.2 L357.0,97.1 L357.3,98.1 L357.6,99.0 L357.8,100.0 L358.1,101.0 L358.3,101.9 L358.6,102.9 L358.8,103.9 L359.1,104.8 L359.3,105.8 L359.6,106.8 L359.8,107.8 L360.0,108.7 L360.3,109.7 L360.5,110.7 L360.7,111.6 L361.0,112.6 L361.2,113.6 L361.4,114.6 L361.6,115.5 L361.9,116.5 L362.1,117.5 L362.3,118.5 L362.5,119.4 L362.7,120.4 L362.9,121.4 L363.1,122.4 L363.3,123.4 L363.5,124.3 L363.8,125.3 L364.0,126.3 L364.2,127.3 L364.4,128.3 L364.6,129.2 L364.8,130.2 L365.0,131.2 L365.2,132.2 L365.4,133.2 L365.5,134.1 L365.7,135.1 L365.9,136.1 L366.1,137.1 L366.3,138.1 L366.5,139.0 L366.7,140.0 L366.9,141.0 L367.1,142.0 L367.2,143.0 L367.4,144.0 L367.6,144.9 L367.8,145.9 L368.0,146.9 L368.2,147.9 L368.3,148.9 L368.5,149.9 L368.7,150.8 L368.9,151.8 L369.1,152.8 L369.2,153.8 L369.4,154.8 L369.6,155.8 L369.8,156.7 L369.9,157.7 L370.1,158.7 L370.3,159.7 L370.4,160.7 L370.6,161.7 L370.8,162.7 L371.0,163.6 L371.1,164.6 L371.3,165.6 L371.5,166.6 L371.6,167.6 L371.8,168.6 L372.0,169.6 L372.1,170.5 L372.3,171.5 L372.5,172.5 L372.6,173.5 L372.8,174.5 L372.9,175.5 L373.1,176.5 L373.3,177.4 L373.4,178.4 L373.6,179.4 L373.8,180.4 L373.9,181.4 L374.1,182.4 L374.2,183.4 L374.4,184.4 L374.5,185.3 L374.7,186.3 L374.9,187.3 L375.0,188.3 L375.2,189.3 L375.3,190.3 L375.5,191.3 L375.6,192.3 L375.8,193.2 L375.9,194.2 L376.1,195.2 L376.3,196.2 L376.4,197.2 L376.6,198.2 L376.7,199.2 L376.9,200.2 L377.0,201.2 L377.2,202.1 L377.3,203.1 L377.5,204.1 L377.6,205.1 L377.8,206.1 L377.9,207.1 L378.1,208.1 L378.2,209.1 L378.4,210.1 L378.5,211.0 L378.7,212.0 L378.8,213.0 L379.0,214.0 L379.1,215.0 L379.3,216.0 L379.4,217.0 L379.5,218.0 L379.7,219.0 L379.8,219.9 L380.0,220.9 L380.1,221.9 L380.3,222.9 L380.4,223.9 L380.6,224.9 L380.7,225.9 L380.9,226.9 L381.0,227.9 L381.1,228.8 L381.3,229.8 L381.4,230.8 L381.6,231.8 L381.7,232.8 L381.9,233.8 L382.0,234.8 L382.1,235.8 L382.3,236.8 L382.4,237.8 L382.6,238.7 L382.7,239.7 L382.8,240.7 L383.0,241.7 L383.1,242.7 L383.3,243.7 L383.4,244.7 L383.5,245.7 L383.7,246.7 L383.8,247.7 L384.0,248.6 L384.1,249.6 L384.2,250.6 L384.4,251.6 L384.5,252.6 L384.7,253.6 L384.8,254.6 L384.9,255.6 L385.1,256.6 L385.2,257.6 L385.4,258.6 L385.5,259.5 L385.6,260.5 L385.8,261.5 L385.9,262.5 L386.0,263.5 L386.2,264.5 L386.3,265.5 L386.4,266.5 L386.6,267.5 L386.7,268.5 L386.9,269.4 L387.0,270.4 L387.1,271.4 L387.3,272.4 L387.4,273.4 L387.5,274.4 L387.7,275.4 L387.8,276.4 L387.9,277.4 L388.1,278.4 L388.2,279.4 L388.3,280.3 L388.5,281.3 L388.6,282.3 L388.8,283.3 L388.9,284.3 L389.0,285.3 L389.2,286.3 L389.3,287.3 L389.4,288.3 L389.6,289.3 L389.7,290.3 L389.8,291.2 L390.0,292.2 L390.1,293.2 L390.2,294.2 L390.4,295.2 L390.5,296.2 L390.6,297.2 L390.8,298.2 L390.9,299.2 L391.0,300.2 L391.2,301.2 L391.3,302.1 L391.4,303.1 L391.6,304.1 L391.7,305.1 L391.8,306.1 L392.0,307.1 L392.1,308.1 L392.2,309.1 L392.4,310.1 L392.5,311.1 L392.6,312.1 L392.8,313.0 L392.9,314.0 L393.0,315.0 L393.2,316.0 L393.3,317.0 L393.4,318.0 L393.6,319.0 L393.7,320.0 L393.8,321.0 L394.0,322.0 L394.1,323.0 L394.2,324.0 L394.4,324.9 L394.5,325.9 L394.6,326.9 L394.8,327.9 L394.9,328.9 L395.0,329.9 L395.1,330.9 L395.3,331.9 L395.4,332.9 L395.5,333.9 L395.7,334.9 L395.8,335.8 L395.9,336.8 L396.1,337.8 L396.2,338.8 L396.3,339.8 L396.5,340.8 L396.6,341.8 L396.7,342.8 L396.9,343.8 L397.0,344.8 L397.1,345.8 L397.3,346.7 L397.4,347.7 L397.5,348.7 L397.7,349.7 L397.8,350.7 L397.9,351.7 L398.1,352.7 L398.2,353.7 L398.3,354.7 L398.5,355.7 L398.6,356.7 L398.7,357.7 L398.9,358.6 L399.0,359.6 L399.1,360.6 L399.3,361.6 L399.4,362.6 L399.5,363.6 L399.7,364.6 L399.8,365.6 L399.9,366.6 L400.1,367.6 L400.2,368.6 L400.3,369.5 L400.5,370.5 L400.6,371.5 L400.8,372.5 L400.9,373.5 L401.0,374.5 L401.2,375.5 L401.3,376.5 L401.4,377.5 L401.6,378.5 L401.7,379.5 L401.8,380.4 L402.0,381.4 L402.1,382.4 L402.2,383.4 L402.4,384.4 L402.5,385.4 L402.6,386.4 L402.8,387.4 L402.9,388.4 L403.1,389.4 L403.2,390.3 L403.3,391.3 L403.5,392.3 L403.6,393.3 L403.7,394.3 L403.9,395.3 L404.0,396.3 L404.2,397.3 L404.3,398.3 L404.4,399.3 L404.6,400.3 L404.7,401.2 L404.8,402.2 L405.0,403.2 L405.1,404.2 L405.3,405.2 L405.4,406.2 L405.5,407.2 L405.7,408.2 L405.8,409.2 L406.0,410.2 L406.1,411.1 L406.2,412.1 L406.4,413.1 L406.5,414.1 L406.7,415.1 L406.8,416.1 L406.9,417.1 L407.1,418.1 L407.2,419.1 L407.4,420.1 L407.5,421.0 L407.7,422.0 L407.8,423.0 L407.9,424.0 L408.1,425.0 L408.2,426.0 L408.4,427.0 L408.5,428.0 L408.7,429.0 L408.8,430.0 L409.0,430.9 L409.1,431.9 L409.2,432.9 L409.4,433.9 L409.5,434.9 L409.7,435.9 L409.8,436.9 L410.0,437.9 L410.1,438.9 L410.3,439.8 L410.4,440.8 L410.6,441.8 L410.7,442.8 L410.9,443.8 L411.0,444.8 L411.2,445.8 L411.3,446.8 L411.5,447.8 L411.6,448.7 L411.8,449.7 L411.9,450.7 L412.1,451.7 L412.2,452.7 L412.4,453.7 L412.5,454.7 L412.7,455.7 L412.8,456.7 L413.0,457.6 L413.1,458.6 L413.3,459.6 L413.5,460.6 L413.6,461.6 L413.8,462.6 L413.9,463.6 L414.1,464.6 L414.2,465.5 L414.4,466.5 L414.5,467.5 L414.7,468.5 L414.9,469.5 L415.0,470.5 L415.2,471.5 L415.3,472.5 L415.5,473.4 L415.7,474.4 L415.8,475.4 L416.0,476.4 L416.2,477.4 L416.3,478.4 L416.5,479.4 L416.6,480.3 L416.8,481.3 L417.0,482.3 L417.1,483.3 L417.3,484.3 L417.5,485.3 L417.6,486.3 L417.8,487.2 L418.0,488.2 L418.2,489.2 L418.3,490.2 L418.5,491.2 L418.7,492.2 L418.8,493.2 L419.0,494.1 L419.2,495.1 L419.4,496.1 L419.5,497.1 L419.7,498.1 L419.9,499.1 L420.1,500.1 L420.2,501.0 L420.4,502.0 L420.6,503.0 L420.8,504.0 L421.0,505.0 L421.1,506.0 L421.3,506.9 L421.5,507.9 L421.7,508.9 L421.9,509.9 L422.1,510.9 L422.2,511.9 L422.4,512.8 L422.6,513.8 L422.8,514.8 L423.0,515.8 L423.2,516.8 L423.4,517.7 L423.6,518.7 L423.8,519.7 L424.0,520.7 L424.2,521.7 L424.3,522.6 L424.5,523.6 L424.7,524.6 L424.9,525.6 L425.1,526.6 L425.3,527.5 L425.5,528.5 L425.7,529.5 L426.0,530.5 L426.2,531.5 L426.4,532.4 L426.6,533.4 L426.8,534.4 L427.0,535.4 L427.2,536.4 L427.4,537.3 L427.6,538.3 L427.8,539.3 L428.1,540.3 L428.3,541.2 L428.5,542.2 L428.7,543.2 L428.9,544.2 L429.2,545.1 L429.4,546.1 L429.6,547.1 L429.8,548.1 L430.1,549.0 L430.3,550.0 L430.5,551.0 L430.8,552.0 L431.0,552.9 L431.2,553.9 L431.5,554.9 L431.7,555.8 L432.0,556.8 L432.2,557.8 L432.5,558.7 L432.7,559.7 L432.9,560.7 L433.2,561.7 L433.5,562.6 L433.7,563.6 L434.0,564.6 L434.2,565.5 L434.5,566.5 L434.8,567.4 L435.0,568.4 L435.3,569.4 L435.6,570.3 L435.8,571.3 L436.1,572.3 L436.4,573.2 L436.7,574.2 L436.9,575.1 L437.2,576.1 L437.5,577.1 L437.8,578.0 L438.1,579.0 L438.4,579.9 L438.7,580.9 L439.0,581.8 L439.3,582.8 L439.6,583.7 L439.9,584.7 L440.2,585.6 L440.5,586.6 L440.8,587.5 L441.2,588.5 L441.5,589.4 L441.8,590.4 L442.2,591.3 L442.5,592.3 L442.8,593.2 L443.2,594.1 L443.5,595.1 L443.9,596.0 L444.2,597.0 L444.6,597.9 L444.9,598.8 L445.3,599.7 L445.7,600.7 L446.1,601.6 L446.4,602.5 L446.8,603.4 L447.2,604.4 L447.6,605.3 L448.0,606.2 L448.4,607.1 L448.8,608.0 L449.2,608.9 L449.7,609.9 L450.1,610.8 L450.5,611.7 L451.0,612.6 L451.4,613.5 L451.8,614.3 L452.3,615.2 L452.8,616.1 L453.2,617.0 L453.7,617.9 L454.2,618.8 L454.7,619.6 L455.2,620.5 L455.7,621.4 L456.2,622.2 L456.7,623.1 L457.2,623.9 L457.8,624.8 L458.3,625.6 L458.8,626.5 L459.4,627.3 L460.0,628.1 L460.5,628.9 L461.1,629.8 L461.7,630.6 L462.3,631.4 L462.9,632.2 L463.5,632.9 L464.1,633.7 L464.8,634.5 L465.4,635.3 L466.1,636.0 L466.7,636.8 L467.4,637.5 L468.1,638.2 L468.8,639.0 L469.5,639.7 L470.2,640.4 L470.9,641.1 L471.7,641.7 L472.4,642.4 L473.2,643.1 L473.9,643.7 L474.7,644.4 L475.5,645.0 L476.2,645.6 L477.0,646.2 L477.8,646.8 L478.7,647.4 L479.5,648.0 L480.3,648.5 L481.2,649.1 L482.0,649.6 L482.9,650.1 L483.7,650.6 L484.6,651.1 L485.5,651.6 L486.3,652.1 L487.2,652.5 L488.1,653.0 L489.0,653.4 L489.9,653.8 L490.8,654.2 L491.8,654.6 L492.7,655.0 L493.6,655.4 L494.5,655.8 L495.5,656.1 L496.4,656.5 L497.3,656.8 L498.3,657.1 L499.2,657.4 L500.2,657.7 L501.2,658.0 L502.1,658.3 L503.1,658.6 L504.0,658.8 L505.0,659.1 L506.0,659.3 L506.9,659.6 L507.9,659.8 L508.9,660.0 L509.9,660.3 L510.8,660.5 L511.8,660.7 L512.8,660.9 L513.8,661.1 L514.7,661.3 L515.7,661.5 L516.7,661.6 L517.6,661.7 L518.6,661.8 L519.6,661.9 L520.6,661.9 L521.6,662.0 L522.6,662.0 L523.6,662.1 L524.6,662.1 L525.6,662.1 L526.6,662.1 L527.6,662.2 L528.6,662.2 L529.6,662.2 L530.6,662.2 L531.6,662.3 L532.6,662.3 L533.6,662.3 L534.6,662.3 L535.6,662.3 L536.6,662.4 L537.6,662.4 L538.6,662.4 L539.6,662.4 L540.6,662.4 L541.6,662.5 L542.6,662.5 L543.6,662.5 L544.6,662.5 L545.6,662.5 L546.6,662.5 L547.6,662.5 L548.6,662.5 L549.6,662.5 L550.6,662.6 L551.6,662.6 L552.6,662.6 L553.6,662.6 L554.6,662.6 L555.6,662.6 L556.6,662.6 L557.6,662.6 L558.6,662.6 L559.6,662.6 L560.6,662.6 L561.6,662.6 L562.6,662.6 L563.6,662.6 L564.6,662.6 L565.6,662.6 L566.6,662.6 L567.6,662.6 L568.6,662.6 L569.6,662.7 L570.6,662.7 L571.6,662.7 L572.6,662.7 L573.6,662.7 L574.6,662.7 L575.6,662.7 L576.6,662.7 L577.6,662.7 L578.6,662.7 L579.6,662.7 L580.5,662.7 L581.5,662.7 L582.4,662.7 L583.0,662.7" fill="none" stroke="#6ca84c" stroke-width="2.5"/>
<path d="M231.2,662.7 L232.1,662.2 L233.0,661.7 L233.8,661.3 L234.7,660.9 L235.7,660.5 L236.6,660.2 L237.5,660.0 L238.5,659.8 L239.5,659.7 L240.5,659.8 L241.4,659.8 L242.4,660.0 L243.4,660.1 L244.4,660.3 L245.4,660.5 L246.3,660.7 L247.3,660.8 L248.3,661.0 L249.3,661.2 L250.3,661.3 L251.3,661.5 L252.3,661.6 L253.3,661.8 L254.2,661.9 L255.2,662.0 L256.2,662.1 L257.2,662.1 L258.2,662.2 L259.2,662.2 L260.2,662.2 L261.2,662.2 L262.2,662.2 L263.2,662.1 L264.2,662.0 L265.2,661.9 L266.2,661.7 L267.1,661.5 L268.1,661.2 L269.0,660.9 L270.0,660.5 L270.9,660.1 L271.8,659.7 L272.7,659.3 L273.6,658.8 L274.4,658.4 L275.3,657.9 L276.1,657.3 L276.9,656.7 L277.7,656.1 L278.4,655.5 L279.1,654.8 L279.8,654.1 L280.5,653.4 L281.2,652.6 L281.8,651.8 L282.4,651.1 L283.0,650.3 L283.6,649.5 L284.2,648.6 L284.8,647.8 L285.3,647.0 L285.8,646.1 L286.3,645.3 L286.8,644.4 L287.3,643.5 L287.8,642.6 L288.3,641.7 L288.7,640.9 L289.1,640.0 L289.6,639.1 L290.0,638.1 L290.4,637.2 L290.8,636.3 L291.2,635.4 L291.6,634.5 L292.0,633.5 L292.3,632.6 L292.7,631.7 L293.0,630.8 L293.4,629.8 L293.7,628.9 L294.1,627.9 L294.4,627.0 L294.7,626.0 L295.1,625.1 L295.4,624.2 L295.7,623.2 L296.0,622.2 L296.3,621.3 L296.6,620.3 L296.9,619.4 L297.2,618.4 L297.5,617.5 L297.7,616.5 L298.0,615.6 L298.3,614.6 L298.6,613.6 L298.8,612.7 L299.1,611.7 L299.4,610.7 L299.6,609.8 L299.9,608.8 L300.1,607.8 L300.4,606.9 L300.6,605.9 L300.9,604.9 L301.1,604.0 L301.4,603.0 L301.6,602.0 L301.8,601.0 L302.1,600.1 L302.3,599.1 L302.5,598.1 L302.8,597.2 L303.0,596.2 L303.2,595.2 L303.4,594.2 L303.6,593.3 L303.9,592.3 L304.1,591.3 L304.3,590.3 L304.5,589.3 L304.7,588.4 L304.9,587.4 L305.1,586.4 L305.3,585.4 L305.5,584.5 L305.7,583.5 L305.9,582.5 L306.1,581.5 L306.3,580.5 L306.5,579.6 L306.7,578.6 L306.9,577.6 L307.1,576.6 L307.3,575.6 L307.5,574.6 L307.7,573.7 L307.9,572.7 L308.1,571.7 L308.2,570.7 L308.4,569.7 L308.6,568.8 L308.8,567.8 L309.0,566.8 L309.2,565.8 L309.3,564.8 L309.5,563.8 L309.7,562.9 L309.9,561.9 L310.0,560.9 L310.2,559.9 L310.4,558.9 L310.6,557.9 L310.7,556.9 L310.9,556.0 L311.1,555.0 L311.3,554.0 L311.4,553.0 L311.6,552.0 L311.8,551.0 L311.9,550.0 L312.1,549.1 L312.3,548.1 L312.4,547.1 L312.6,546.1 L312.7,545.1 L312.9,544.1 L313.1,543.1 L313.2,542.1 L313.4,541.2 L313.5,540.2 L313.7,539.2 L313.9,538.2 L314.0,537.2 L314.2,536.2 L314.3,535.2 L314.5,534.2 L314.6,533.3 L314.8,532.3 L314.9,531.3 L315.1,530.3 L315.3,529.3 L315.4,528.3 L315.6,527.3 L315.7,526.3 L315.9,525.4 L316.0,524.4 L316.2,523.4 L316.3,522.4 L316.5,521.4 L316.6,520.4 L316.8,519.4 L316.9,518.4 L317.0,517.4 L317.2,516.5 L317.3,515.5 L317.5,514.5 L317.6,513.5 L317.8,512.5 L317.9,511.5 L318.1,510.5 L318.2,509.5 L318.3,508.5 L318.5,507.5 L318.6,506.6 L318.8,505.6 L318.9,504.6 L319.1,503.6 L319.2,502.6 L319.3,501.6 L319.5,500.6 L319.6,499.6 L319.8,498.6 L319.9,497.6 L320.0,496.7 L320.2,495.7 L320.3,494.7 L320.5,493.7 L320.6,492.7 L320.7,491.7 L320.9,490.7 L321.0,489.7 L321.1,488.7 L321.3,487.7 L321.4,486.8 L321.5,485.8 L321.7,484.8 L321.8,483.8 L321.9,482.8 L322.1,481.8 L322.2,480.8 L322.4,479.8 L322.5,478.8 L322.6,477.8 L322.8,476.8 L322.9,475.9 L323.0,474.9 L323.1,473.9 L323.3,472.9 L323.4,471.9 L323.5,470.9 L323.7,469.9 L323.8,468.9 L323.9,467.9 L324.1,466.9 L324.2,465.9 L324.3,464.9 L324.5,464.0 L324.6,463.0 L324.7,462.0 L324.9,461.0 L325.0,460.0 L325.1,459.0 L325.2,458.0 L325.4,457.0 L325.5,456.0 L325.6,455.0 L325.8,454.0 L325.9,453.0 L326.0,452.1 L326.1,451.1 L326.3,450.1 L326.4,449.1 L326.5,448.1 L326.6,447.1 L326.8,446.1 L326.9,445.1 L327.0,444.1 L327.2,443.1 L327.3,442.1 L327.4,441.1 L327.5,440.2 L327.7,439.2 L327.8,438.2 L327.9,437.2 L328.0,436.2 L328.2,435.2 L328.3,434.2 L328.4,433.2 L328.5,432.2 L328.7,431.2 L328.8,430.2 L328.9,429.2 L329.0,428.2 L329.2,427.3 L329.3,426.3 L329.4,425.3 L329.5,424.3 L329.7,423.3 L329.8,422.3 L329.9,421.3 L330.0,420.3 L330.2,419.3 L330.3,418.3 L330.4,417.3 L330.5,416.3 L330.7,415.3 L330.8,414.4 L330.9,413.4 L331.0,412.4 L331.2,411.4 L331.3,410.4 L331.4,409.4 L331.5,408.4 L331.7,407.4 L331.8,406.4 L331.9,405.4 L332.0,404.4 L332.2,403.4 L332.3,402.4 L332.4,401.5 L332.5,400.5 L332.6,399.5 L332.8,398.5 L332.9,397.5 L333.0,396.5 L333.1,395.5 L333.3,394.5 L333.4,393.5 L333.5,392.5 L333.6,391.5 L333.8,390.5 L333.9,389.5 L334.0,388.6 L334.1,387.6 L334.2,386.6 L334.4,385.6 L334.5,384.6 L334.6,383.6 L334.7,382.6 L334.9,381.6 L335.0,380.6 L335.1,379.6 L335.2,378.6 L335.4,377.6 L335.5,376.6 L335.6,375.7 L335.7,374.7 L335.8,373.7 L336.0,372.7 L336.1,371.7 L336.2,370.7 L336.3,369.7 L336.5,368.7 L336.6,367.7 L336.7,366.7 L336.8,365.7 L337.0,364.7 L337.1,363.7 L337.2,362.8 L337.3,361.8 L337.4,360.8 L337.6,359.8 L337.7,358.8 L337.8,357.8 L337.9,356.8 L338.1,355.8 L338.2,354.8 L338.3,353.8 L338.4,352.8 L338.6,351.8 L338.7,350.8 L338.8,349.9 L338.9,348.9 L339.1,347.9 L339.2,346.9 L339.3,345.9 L339.4,344.9 L339.6,343.9 L339.7,342.9 L339.8,341.9 L339.9,340.9 L340.1,339.9 L340.2,338.9 L340.3,337.9 L340.4,337.0 L340.6,336.0 L340.7,335.0 L340.8,334.0 L340.9,333.0 L341.1,332.0 L341.2,331.0 L341.3,330.0 L341.4,329.0 L341.6,328.0 L341.7,327.0 L341.8,326.0 L341.9,325.1 L342.1,324.1 L342.2,323.1 L342.3,322.1 L342.4,321.1 L342.6,320.1 L342.7,319.1 L342.8,318.1 L343.0,317.1 L343.1,316.1 L343.2,315.1 L343.3,314.1 L343.5,313.1 L343.6,312.2 L343.7,311.2 L343.8,310.2 L344.0,309.2 L344.1,308.2 L344.2,307.2 L344.4,306.2 L344.5,305.2 L344.6,304.2 L344.8,303.2 L344.9,302.2 L345.0,301.2 L345.1,300.3 L345.3,299.3 L345.4,298.3 L345.5,297.3 L345.7,296.3 L345.8,295.3 L345.9,294.3 L346.1,293.3 L346.2,292.3 L346.3,291.3 L346.5,290.3 L346.6,289.4 L346.7,288.4 L346.8,287.4 L347.0,286.4 L347.1,285.4 L347.2,284.4 L347.4,283.4 L347.5,282.4 L347.6,281.4 L347.8,280.4 L347.9,279.4 L348.0,278.4 L348.2,277.5 L348.3,276.5 L348.5,275.5 L348.6,274.5 L348.7,273.5 L348.9,272.5 L349.0,271.5 L349.1,270.5 L349.3,269.5 L349.4,268.5 L349.5,267.6 L349.7,266.6 L349.8,265.6 L350.0,264.6 L350.1,263.6 L350.2,262.6 L350.4,261.6 L350.5,260.6 L350.7,259.6 L350.8,258.6 L350.9,257.6 L351.1,256.7 L351.2,255.7 L351.4,254.7 L351.5,253.7 L351.6,252.7 L351.8,251.7 L351.9,250.7 L352.1,249.7 L352.2,248.7 L352.3,247.7 L352.5,246.8 L352.6,245.8 L352.8,244.8 L352.9,243.8 L353.1,242.8 L353.2,241.8 L353.4,240.8 L353.5,239.8 L353.7,238.8 L353.8,237.9 L353.9,236.9 L354.1,235.9 L354.2,234.9 L354.4,233.9 L354.5,232.9 L354.7,231.9 L354.8,230.9 L355.0,229.9 L355.1,229.0 L355.3,228.0 L355.4,227.0 L355.6,226.0 L355.7,225.0 L355.9,224.0 L356.1,223.0 L356.2,222.0 L356.4,221.0 L356.5,220.1 L356.7,219.1 L356.8,218.1 L357.0,217.1 L357.1,216.1 L357.3,215.1 L357.5,214.1 L357.6,213.1 L357.8,212.2 L357.9,211.2 L358.1,210.2 L358.2,209.2 L358.4,208.2 L358.6,207.2 L358.7,206.2 L358.9,205.3 L359.1,204.3 L359.2,203.3 L359.4,202.3 L359.6,201.3 L359.7,200.3 L359.9,199.3 L360.1,198.3 L360.2,197.4 L360.4,196.4 L360.6,195.4 L360.7,194.4 L360.9,193.4 L361.1,192.4 L361.2,191.4 L361.4,190.5 L361.6,189.5 L361.8,188.5 L361.9,187.5 L362.1,186.5 L362.3,185.5 L362.5,184.6 L362.6,183.6 L362.8,182.6 L363.0,181.6 L363.2,180.6 L363.4,179.6 L363.6,178.7 L363.7,177.7 L363.9,176.7 L364.1,175.7 L364.3,174.7 L364.5,173.7 L364.7,172.8 L364.9,171.8 L365.0,170.8 L365.2,169.8 L365.4,168.8 L365.6,167.9 L365.8,166.9 L366.0,165.9 L366.2,164.9 L366.4,163.9 L366.6,163.0 L366.8,162.0 L367.0,161.0 L367.2,160.0 L367.4,159.0 L367.6,158.1 L367.8,157.1 L368.0,156.1 L368.2,155.1 L368.4,154.1 L368.7,153.2 L368.9,152.2 L369.1,151.2 L369.3,150.2 L369.5,149.3 L369.7,148.3 L370.0,147.3 L370.2,146.3 L370.4,145.4 L370.6,144.4 L370.9,143.4 L371.1,142.4 L371.3,141.5 L371.6,140.5 L371.8,139.5 L372.0,138.5 L372.3,137.6 L372.5,136.6 L372.7,135.6 L373.0,134.7 L373.2,133.7 L373.5,132.7 L373.7,131.8 L374.0,130.8 L374.3,129.8 L374.5,128.9 L374.8,127.9 L375.0,126.9 L375.3,126.0 L375.6,125.0 L375.8,124.0 L376.1,123.1 L376.4,122.1 L376.7,121.2 L377.0,120.2 L377.3,119.2 L377.5,118.3 L377.8,117.3 L378.1,116.4 L378.4,115.4 L378.8,114.5 L379.1,113.5 L379.4,112.6 L379.7,111.6 L380.0,110.7 L380.4,109.7 L380.7,108.8 L381.0,107.9 L381.4,106.9 L381.7,106.0 L382.1,105.0 L382.4,104.1 L382.8,103.2 L383.2,102.3 L383.6,101.3 L384.0,100.4 L384.4,99.5 L384.8,98.6 L385.2,97.7 L385.6,96.8 L386.0,95.9 L386.5,95.0 L387.0,94.1 L387.4,93.2 L387.9,92.3 L388.4,91.5 L388.9,90.6 L389.4,89.7 L390.0,88.9 L390.5,88.1 L391.1,87.3 L391.7,86.5 L392.3,85.7 L393.0,84.9 L393.6,84.2 L394.3,83.5 L395.1,82.8 L395.8,82.1 L396.6,81.5 L397.5,81.0 L398.3,80.5 L399.2,80.0 L400.2,79.7 L401.1,79.4 L402.1,79.3 L403.1,79.2 L404.1,79.2 L405.1,79.4 L406.1,79.7 L407.0,80.0 L407.9,80.5 L408.8,80.9 L409.6,81.5 L410.4,82.1 L411.2,82.7 L412.0,83.3 L412.7,84.0 L413.5,84.7 L414.2,85.4 L414.8,86.1 L415.5,86.9 L416.2,87.6 L416.8,88.4 L417.4,89.2 L418.1,90.0 L418.7,90.8 L419.3,91.6 L419.8,92.4 L420.4,93.2 L421.0,94.0 L421.5,94.8 L422.1,95.7 L422.6,96.5 L423.2,97.3 L423.7,98.2 L424.2,99.0 L424.8,99.9 L425.3,100.8 L425.8,101.6 L426.3,102.5 L426.8,103.4 L427.3,104.2 L427.8,105.1 L428.2,106.0 L428.7,106.9 L429.2,107.7 L429.7,108.6 L430.1,109.5 L430.6,110.4 L431.1,111.3 L431.5,112.2 L432.0,113.1 L432.4,114.0 L432.9,114.8 L433.3,115.7 L433.7,116.6 L434.2,117.5 L434.6,118.4 L435.0,119.3 L435.5,120.2 L435.9,121.2 L436.3,122.1 L436.7,123.0 L437.1,123.9 L437.6,124.8 L438.0,125.7 L438.4,126.6 L438.8,127.5 L439.2,128.4 L439.6,129.3 L440.0,130.3 L440.4,131.2 L440.8,132.1 L441.2,133.0 L441.6,133.9 L442.0,134.9 L442.4,135.8 L442.8,136.7 L443.2,137.6 L443.6,138.5 L443.9,139.5 L444.3,140.4 L444.7,141.3 L445.1,142.2 L445.5,143.2 L445.8,144.1 L446.2,145.0 L446.6,145.9 L447.0,146.9 L447.3,147.8 L447.7,148.7 L448.1,149.7 L448.4,150.6 L448.8,151.5 L449.2,152.4 L449.5,153.4 L449.9,154.3 L450.3,155.2 L450.6,156.2 L451.0,157.1 L451.3,158.0 L451.7,159.0 L452.0,159.9 L452.4,160.8 L452.7,161.8 L453.1,162.7 L453.4,163.7 L453.8,164.6 L454.1,165.5 L454.5,166.5 L454.8,167.4 L455.2,168.3 L455.5,169.3 L455.9,170.2 L456.2,171.2 L456.6,172.1 L456.9,173.0 L457.2,174.0 L457.6,174.9 L457.9,175.9 L458.3,176.8 L458.6,177.7 L458.9,178.7 L459.3,179.6 L459.6,180.6 L459.9,181.5 L460.3,182.5 L460.6,183.4 L460.9,184.3 L461.3,185.3 L461.6,186.2 L461.9,187.2 L462.3,188.1 L462.6,189.1 L462.9,190.0 L463.2,191.0 L463.6,191.9 L463.9,192.8 L464.2,193.8 L464.6,194.7 L464.9,195.7 L465.2,196.6 L465.5,197.6 L465.8,198.5 L466.2,199.5 L466.5,200.4 L466.8,201.4 L467.1,202.3 L467.4,203.3 L467.8,204.2 L468.1,205.2 L468.4,206.1 L468.7,207.0 L469.0,208.0 L469.3,208.9 L469.7,209.9 L470.0,210.8 L470.3,211.8 L470.6,212.7 L470.9,213.7 L471.2,214.6 L471.5,215.6 L471.9,216.5 L472.2,217.5 L472.5,218.4 L472.8,219.4 L473.1,220.3 L473.4,221.3 L473.7,222.2 L474.0,223.2 L474.3,224.1 L474.6,225.1 L475.0,226.0 L475.3,227.0 L475.6,228.0 L475.9,228.9 L476.2,229.9 L476.5,230.8 L476.8,231.8 L477.1,232.7 L477.4,233.7 L477.7,234.6 L478.0,235.6 L478.3,236.5 L478.6,237.5 L478.9,238.4 L479.2,239.4 L479.5,240.3 L479.8,241.3 L480.1,242.2 L480.4,243.2 L480.7,244.2 L481.0,245.1 L481.3,246.1 L481.6,247.0 L481.9,248.0 L482.2,248.9 L482.5,249.9 L482.8,250.8 L483.1,251.8 L483.4,252.7 L483.7,253.7 L484.0,254.6 L484.3,255.6 L484.6,256.6 L484.9,257.5 L485.2,258.5 L485.5,259.4 L485.8,260.4 L486.1,261.3 L486.4,262.3 L486.7,263.2 L487.0,264.2 L487.3,265.2 L487.6,266.1 L487.8,267.1 L488.1,268.0 L488.4,269.0 L488.7,269.9 L489.0,270.9 L489.3,271.9 L489.6,272.8 L489.9,273.8 L490.2,274.7 L490.5,275.7 L490.8,276.6 L491.1,277.6 L491.4,278.5 L491.6,279.5 L491.9,280.5 L492.2,281.4 L492.5,282.4 L492.8,283.3 L493.1,284.3 L493.4,285.2 L493.7,286.2 L494.0,287.2 L494.3,288.1 L494.6,289.1 L494.8,290.0 L495.1,291.0 L495.4,291.9 L495.7,292.9 L496.0,293.9 L496.3,294.8 L496.6,295.8 L496.9,296.7 L497.1,297.7 L497.4,298.6 L497.7,299.6 L498.0,300.6 L498.3,301.5 L498.6,302.5 L498.9,303.4 L499.2,304.4 L499.4,305.4 L499.7,306.3 L500.0,307.3 L500.3,308.2 L500.6,309.2 L500.9,310.1 L501.2,311.1 L501.5,312.1 L501.7,313.0 L502.0,314.0 L502.3,314.9 L502.6,315.9 L502.9,316.9 L503.2,317.8 L503.5,318.8 L503.7,319.7 L504.0,320.7 L504.3,321.6 L504.6,322.6 L504.9,323.6 L505.2,324.5 L505.4,325.5 L505.7,326.4 L506.0,327.4 L506.3,328.4 L506.6,329.3 L506.9,330.3 L507.2,331.2 L507.4,332.2 L507.7,333.1 L508.0,334.1 L508.3,335.1 L508.6,336.0 L508.9,337.0 L509.1,337.9 L509.4,338.9 L509.7,339.9 L510.0,340.8 L510.3,341.8 L510.6,342.7 L510.9,343.7 L511.1,344.6 L511.4,345.6 L511.7,346.6 L512.0,347.5 L512.3,348.5 L512.6,349.4 L512.8,350.4 L513.1,351.4 L513.4,352.3 L513.7,353.3 L514.0,354.2 L514.3,355.2 L514.5,356.2 L514.8,357.1 L515.1,358.1 L515.4,359.0 L515.7,360.0 L516.0,360.9 L516.3,361.9 L516.5,362.9 L516.8,363.8 L517.1,364.8 L517.4,365.7 L517.7,366.7 L518.0,367.7 L518.2,368.6 L518.5,369.6 L518.8,370.5 L519.1,371.5 L519.4,372.5 L519.7,373.4 L520.0,374.4 L520.2,375.3 L520.5,376.3 L520.8,377.2 L521.1,378.2 L521.4,379.2 L521.7,380.1 L522.0,381.1 L522.2,382.0 L522.5,383.0 L522.8,384.0 L523.1,384.9 L523.4,385.9 L523.7,386.8 L524.0,387.8 L524.2,388.7 L524.5,389.7 L524.8,390.7 L525.1,391.6 L525.4,392.6 L525.7,393.5 L526.0,394.5 L526.2,395.5 L526.5,396.4 L526.8,397.4 L527.1,398.3 L527.4,399.3 L527.7,400.2 L528.0,401.2 L528.3,402.2 L528.5,403.1 L528.8,404.1 L529.1,405.0 L529.4,406.0 L529.7,406.9 L530.0,407.9 L530.3,408.9 L530.6,409.8 L530.9,410.8 L531.1,411.7 L531.4,412.7 L531.7,413.6 L532.0,414.6 L532.3,415.6 L532.6,416.5 L532.9,417.5 L533.2,418.4 L533.5,419.4 L533.8,420.3 L534.1,421.3 L534.3,422.3 L534.6,423.2 L534.9,424.2 L535.2,425.1 L535.5,426.1 L535.8,427.0 L536.1,428.0 L536.4,428.9 L536.7,429.9 L537.0,430.9 L537.3,431.8 L537.6,432.8 L537.9,433.7 L538.2,434.7 L538.5,435.6 L538.7,436.6 L539.0,437.5 L539.3,438.5 L539.6,439.5 L539.9,440.4 L540.2,441.4 L540.5,442.3 L540.8,443.3 L541.1,444.2 L541.4,445.2 L541.7,446.1 L542.0,447.1 L542.3,448.1 L542.6,449.0 L542.9,450.0 L543.2,450.9 L543.5,451.9 L543.8,452.8 L544.1,453.8 L544.4,454.7 L544.7,455.7 L545.0,456.6 L545.3,457.6 L545.6,458.5 L545.9,459.5 L546.2,460.4 L546.5,461.4 L546.8,462.4 L547.1,463.3 L547.4,464.3 L547.7,465.2 L548.0,466.2 L548.4,467.1 L548.7,468.1 L549.0,469.0 L549.3,470.0 L549.6,470.9 L549.9,471.9 L550.2,472.8 L550.5,473.8 L550.8,474.7 L551.1,475.7 L551.4,476.6 L551.7,477.6 L552.1,478.5 L552.4,479.5 L552.7,480.4 L553.0,481.4 L553.3,482.3 L553.6,483.3 L553.9,484.2 L554.2,485.2 L554.6,486.1 L554.9,487.1 L555.2,488.0 L555.5,489.0 L555.8,489.9 L556.1,490.9 L556.5,491.8 L556.8,492.8 L557.1,493.7 L557.4,494.7 L557.7,495.6 L558.1,496.6 L558.4,497.5 L558.7,498.5 L559.0,499.4 L559.3,500.3 L559.7,501.3 L560.0,502.2 L560.3,503.2 L560.6,504.1 L561.0,505.1 L561.3,506.0 L561.6,507.0 L562.0,507.9 L562.3,508.9 L562.6,509.8 L562.9,510.7 L563.3,511.7 L563.6,512.6 L563.9,513.6 L564.3,514.5 L564.6,515.5 L564.9,516.4 L565.3,517.3 L565.6,518.3 L566.0,519.2 L566.3,520.2 L566.6,521.1 L567.0,522.0 L567.3,523.0 L567.7,523.9 L568.0,524.9 L568.3,525.8 L568.7,526.7 L569.0,527.7 L569.4,528.6 L569.7,529.6 L570.1,530.5 L570.4,531.4 L570.8,532.4 L571.1,533.3 L571.5,534.2 L571.8,535.2 L572.2,536.1 L572.5,537.0 L572.9,538.0 L573.2,538.9 L573.6,539.9 L574.0,540.8 L574.3,541.7 L574.7,542.6 L575.0,543.6 L575.4,544.5 L575.8,545.4 L576.1,546.4 L576.5,547.3 L576.9,548.2 L577.2,549.2 L577.6,550.1 L578.0,551.0 L578.4,551.9 L578.7,552.9 L579.1,553.8 L579.5,554.7 L579.9,555.7 L580.2,556.6 L580.6,557.5 L581.0,558.4 L581.4,559.3 L581.8,560.3 L582.2,561.2 L582.6,562.1 L583.0,563.0 L583.3,564.0 L583.7,564.9 L584.1,565.8 L584.5,566.7 L584.9,567.6 L585.3,568.5 L585.7,569.5 L586.1,570.4 L586.6,571.3 L587.0,572.2 L587.4,573.1 L587.8,574.0 L588.2,574.9 L588.6,575.8 L589.0,576.7 L589.5,577.7 L589.9,578.6 L590.3,579.5 L590.7,580.4 L591.2,581.3 L591.6,582.2 L592.0,583.1 L592.5,584.0 L592.9,584.9 L593.3,585.8 L593.8,586.7 L594.2,587.6 L594.7,588.5 L595.1,589.3 L595.6,590.2 L596.0,591.1 L596.5,592.0 L597.0,592.9 L597.4,593.8 L597.9,594.7 L598.4,595.5 L598.8,596.4 L599.3,597.3 L599.8,598.2 L600.3,599.1 L600.8,599.9 L601.3,600.8 L601.8,601.7 L602.3,602.5 L602.8,603.4 L603.3,604.3 L603.8,605.1 L604.3,606.0 L604.8,606.8 L605.3,607.7 L605.9,608.5 L606.4,609.4 L606.9,610.2 L607.5,611.1 L608.0,611.9 L608.6,612.8 L609.1,613.6 L609.7,614.4 L610.2,615.2 L610.8,616.1 L611.4,616.9 L611.9,617.7 L612.5,618.5 L613.1,619.3 L613.7,620.1 L614.3,620.9 L614.9,621.7 L615.5,622.5 L616.1,623.3 L616.8,624.1 L617.4,624.9 L618.0,625.6 L618.7,626.4 L619.3,627.2 L620.0,627.9 L620.6,628.7 L621.3,629.4 L622.0,630.2 L622.7,630.9 L623.3,631.6 L624.0,632.3 L624.7,633.0 L625.5,633.7 L626.2,634.4 L626.9,635.1 L627.6,635.8 L628.4,636.5 L629.1,637.1 L629.9,637.8 L630.6,638.4 L631.4,639.1 L632.2,639.7 L633.0,640.3 L633.8,640.9 L634.6,641.5 L635.4,642.1 L636.2,642.7 L637.0,643.2 L637.9,643.8 L638.7,644.3 L639.6,644.9 L640.4,645.4 L641.3,645.9 L642.1,646.4 L643.0,646.9 L643.9,647.3 L644.8,647.8 L645.7,648.3 L646.6,648.7 L647.5,649.1 L648.4,649.5 L649.3,650.0 L650.2,650.3 L651.1,650.7 L652.1,651.1 L653.0,651.5 L653.9,651.8 L654.9,652.2 L655.8,652.5 L656.8,652.8 L657.7,653.1 L658.7,653.4 L659.6,653.7 L660.6,654.0 L661.5,654.3 L662.5,654.5 L663.5,654.8 L664.4,655.0 L665.4,655.3 L666.4,655.5 L667.4,655.7 L668.3,655.9 L669.3,656.1 L670.3,656.3 L671.3,656.5 L672.3,656.7 L673.2,656.9 L674.2,657.1 L675.2,657.2 L676.2,657.4 L677.2,657.6 L678.2,657.7 L679.2,657.9 L680.2,658.0 L681.1,658.1 L682.1,658.3 L683.1,658.4 L684.1,658.4 L685.1,658.5 L686.1,658.6 L687.1,658.7 L688.1,658.7 L689.1,658.8 L690.1,658.8 L691.1,658.9 L692.1,658.9 L693.1,659.0 L694.1,659.1 L695.1,659.1 L696.1,659.2 L697.1,659.3 L698.1,659.4 L699.1,659.5 L700.1,659.7 L701.0,659.9 L702.0,660.1 L703.0,660.4 L703.9,660.7 L704.8,661.1 L705.7,661.5 L706.5,662.0 L707.3,662.6 L708.0,663.2 L708.7,663.9 L709.1,664.6 L709.4,665.4 L709.4,666.1 L709.3,666.8 L708.9,667.5 L708.3,668.0 L707.5,668.5 L706.7,668.9 L705.7,669.1 L704.8,669.3 L703.8,669.4 L702.8,669.4 L701.8,669.3 L700.8,669.3 L699.8,669.2 L698.9,669.0 L697.9,668.9 L696.9,668.7 L695.9,668.5 L694.9,668.4 L693.9,668.2 L692.9,668.0 L692.0,667.8 L691.0,667.6 L690.0,667.4 L689.0,667.3 L688.0,667.1 L687.0,666.9 L686.1,666.8 L685.1,666.6 L684.1,666.4 L683.1,666.2 L682.1,666.0 L681.2,665.7 L680.2,665.5 L679.2,665.3 L678.3,665.0 L677.3,664.8 L676.4,664.6 L675.5,664.3 L675.0,664.2" fill="none" stroke="#f07a28" stroke-width="3.3"/>
<path d="M279.0,663.5 L279.8,662.9 L280.5,662.2 L281.3,661.6 L282.1,661.0 L282.9,660.3 L283.6,659.7 L284.3,659.0 L285.1,658.3 L285.7,657.6 L286.4,656.9 L287.0,656.1 L287.6,655.3 L288.1,654.5 L288.7,653.7 L289.2,652.8 L289.8,652.0 L290.4,651.2 L290.9,650.3 L291.5,649.5 L292.0,648.7 L292.5,647.8 L293.1,647.0 L293.6,646.1 L294.1,645.3 L294.6,644.4 L295.1,643.5 L295.6,642.7 L296.1,641.8 L296.6,640.9 L297.1,640.1 L297.6,639.2 L298.1,638.3 L298.5,637.4 L299.0,636.6 L299.5,635.7 L299.9,634.8 L300.4,633.9 L300.8,633.0 L301.3,632.1 L301.7,631.2 L302.2,630.3 L302.6,629.4 L303.0,628.5 L303.4,627.6 L303.9,626.7 L304.3,625.8 L304.7,624.9 L305.1,624.0 L305.5,623.0 L305.9,622.1 L306.3,621.2 L306.7,620.3 L307.1,619.4 L307.5,618.4 L307.9,617.5 L308.3,616.6 L308.6,615.7 L309.0,614.7 L309.4,613.8 L309.8,612.9 L310.1,612.0 L310.5,611.0 L310.9,610.1 L311.2,609.2 L311.6,608.2 L311.9,607.3 L312.3,606.4 L312.6,605.4 L313.0,604.5 L313.3,603.6 L313.7,602.6 L314.0,601.7 L314.4,600.7 L314.7,599.8 L315.0,598.9 L315.4,597.9 L315.7,597.0 L316.0,596.0 L316.4,595.1 L316.7,594.1 L317.0,593.2 L317.3,592.2 L317.7,591.3 L318.0,590.3 L318.3,589.4 L318.6,588.4 L318.9,587.5 L319.2,586.5 L319.5,585.6 L319.8,584.6 L320.1,583.7 L320.5,582.7 L320.8,581.8 L321.1,580.8 L321.4,579.9 L321.7,578.9 L321.9,578.0 L322.2,577.0 L322.5,576.1 L322.8,575.1 L323.1,574.1 L323.4,573.2 L323.7,572.2 L324.0,571.3 L324.3,570.3 L324.6,569.4 L324.8,568.4 L325.1,567.4 L325.4,566.5 L325.7,565.5 L326.0,564.6 L326.2,563.6 L326.5,562.6 L326.8,561.7 L327.1,560.7 L327.3,559.7 L327.6,558.8 L327.9,557.8 L328.1,556.9 L328.4,555.9 L328.7,554.9 L328.9,554.0 L329.2,553.0 L329.5,552.0 L329.7,551.1 L330.0,550.1 L330.3,549.1 L330.5,548.2 L330.8,547.2 L331.0,546.2 L331.3,545.3 L331.5,544.3 L331.8,543.3 L332.1,542.4 L332.3,541.4 L332.6,540.4 L332.8,539.5 L333.1,538.5 L333.3,537.5 L333.6,536.6 L333.8,535.6 L334.1,534.6 L334.3,533.7 L334.5,532.7 L334.8,531.7 L335.0,530.8 L335.3,529.8 L335.5,528.8 L335.8,527.8 L336.0,526.9 L336.2,525.9 L336.5,524.9 L336.7,524.0 L337.0,523.0 L337.2,522.0 L337.4,521.0 L337.7,520.1 L337.9,519.1 L338.1,518.1 L338.4,517.2 L338.6,516.2 L338.8,515.2 L339.1,514.2 L339.3,513.3 L339.5,512.3 L339.8,511.3 L340.0,510.3 L340.2,509.4 L340.4,508.4 L340.7,507.4 L340.9,506.5 L341.1,505.5 L341.4,504.5 L341.6,503.5 L341.8,502.6 L342.0,501.6 L342.2,500.6 L342.5,499.6 L342.7,498.7 L342.9,497.7 L343.1,496.7 L343.4,495.7 L343.6,494.8 L343.8,493.8 L344.0,492.8 L344.2,491.8 L344.5,490.9 L344.7,489.9 L344.9,488.9 L345.1,487.9 L345.3,486.9 L345.5,486.0 L345.8,485.0 L346.0,484.0 L346.2,483.0 L346.4,482.1 L346.6,481.1 L346.8,480.1 L347.0,479.1 L347.2,478.2 L347.5,477.2 L347.7,476.2 L347.9,475.2 L348.1,474.2 L348.3,473.3 L348.5,472.3 L348.7,471.3 L348.9,470.3 L349.1,469.4 L349.3,468.4 L349.6,467.4 L349.8,466.4 L350.0,465.4 L350.2,464.5 L350.4,463.5 L350.6,462.5 L350.8,461.5 L351.0,460.5 L351.2,459.6 L351.4,458.6 L351.6,457.6 L351.8,456.6 L352.0,455.7 L352.2,454.7 L352.4,453.7 L352.6,452.7 L352.8,451.7 L353.0,450.8 L353.2,449.8 L353.4,448.8 L353.6,447.8 L353.8,446.8 L354.0,445.9 L354.2,444.9 L354.4,443.9 L354.6,442.9 L354.8,441.9 L355.0,441.0 L355.2,440.0 L355.4,439.0 L355.6,438.0 L355.8,437.0 L356.0,436.1 L356.2,435.1 L356.4,434.1 L356.6,433.1 L356.8,432.1 L357.0,431.2 L357.2,430.2 L357.4,429.2 L357.6,428.2 L357.8,427.2 L358.0,426.2 L358.2,425.3 L358.4,424.3 L358.5,423.3 L358.7,422.3 L358.9,421.3 L359.1,420.4 L359.3,419.4 L359.5,418.4 L359.7,417.4 L359.9,416.4 L360.1,415.5 L360.3,414.5 L360.5,413.5 L360.7,412.5 L360.9,411.5 L361.0,410.5 L361.2,409.6 L361.4,408.6 L361.6,407.6 L361.8,406.6 L362.0,405.6 L362.2,404.7 L362.4,403.7 L362.6,402.7 L362.7,401.7 L362.9,400.7 L363.1,399.7 L363.3,398.8 L363.5,397.8 L363.7,396.8 L363.9,395.8 L364.1,394.8 L364.2,393.9 L364.4,392.9 L364.6,391.9 L364.8,390.9 L365.0,389.9 L365.2,388.9 L365.4,388.0 L365.6,387.0 L365.7,386.0 L365.9,385.0 L366.1,384.0 L366.3,383.0 L366.5,382.1 L366.7,381.1 L366.9,380.1 L367.0,379.1 L367.2,378.1 L367.4,377.1 L367.6,376.2 L367.8,375.2 L368.0,374.2 L368.1,373.2 L368.3,372.2 L368.5,371.3 L368.7,370.3 L368.9,369.3 L369.1,368.3 L369.2,367.3 L369.4,366.3 L369.6,365.4 L369.8,364.4 L370.0,363.4 L370.2,362.4 L370.3,361.4 L370.5,360.4 L370.7,359.5 L370.9,358.5 L371.1,357.5 L371.3,356.5 L371.4,355.5 L371.6,354.5 L371.8,353.6 L372.0,352.6 L372.2,351.6 L372.3,350.6 L372.5,349.6 L372.7,348.6 L372.9,347.7 L373.1,346.7 L373.2,345.7 L373.4,344.7 L373.6,343.7 L373.8,342.7 L374.0,341.8 L374.2,340.8 L374.3,339.8 L374.5,338.8 L374.7,337.8 L374.9,336.8 L375.1,335.9 L375.2,334.9 L375.4,333.9 L375.6,332.9 L375.8,331.9 L376.0,330.9 L376.1,330.0 L376.3,329.0 L376.5,328.0 L376.7,327.0 L376.9,326.0 L377.0,325.0 L377.2,324.0 L377.4,323.1 L377.6,322.1 L377.8,321.1 L377.9,320.1 L378.1,319.1 L378.3,318.1 L378.5,317.2 L378.7,316.2 L378.8,315.2 L379.0,314.2 L379.2,313.2 L379.4,312.2 L379.6,311.3 L379.7,310.3 L379.9,309.3 L380.1,308.3 L380.3,307.3 L380.5,306.3 L380.6,305.4 L380.8,304.4 L381.0,303.4 L381.2,302.4 L381.4,301.4 L381.5,300.4 L381.7,299.5 L381.9,298.5 L382.1,297.5 L382.3,296.5 L382.4,295.5 L382.6,294.5 L382.8,293.6 L383.0,292.6 L383.2,291.6 L383.3,290.6 L383.5,289.6 L383.7,288.6 L383.9,287.7 L384.1,286.7 L384.2,285.7 L384.4,284.7 L384.6,283.7 L384.8,282.7 L385.0,281.8 L385.1,280.8 L385.3,279.8 L385.5,278.8 L385.7,277.8 L385.9,276.8 L386.0,275.9 L386.2,274.9 L386.4,273.9 L386.6,272.9 L386.8,271.9 L387.0,270.9 L387.1,270.0 L387.3,269.0 L387.5,268.0 L387.7,267.0 L387.9,266.0 L388.0,265.0 L388.2,264.1 L388.4,263.1 L388.6,262.1 L388.8,261.1 L389.0,260.1 L389.1,259.1 L389.3,258.2 L389.5,257.2 L389.7,256.2 L389.9,255.2 L390.1,254.2 L390.2,253.2 L390.4,252.3 L390.6,251.3 L390.8,250.3 L391.0,249.3 L391.2,248.3 L391.3,247.3 L391.5,246.4 L391.7,245.4 L391.9,244.4 L392.1,243.4 L392.3,242.4 L392.5,241.4 L392.6,240.5 L392.8,239.5 L393.0,238.5 L393.2,237.5 L393.4,236.5 L393.6,235.5 L393.8,234.6 L394.0,233.6 L394.1,232.6 L394.3,231.6 L394.5,230.6 L394.7,229.7 L394.9,228.7 L395.1,227.7 L395.3,226.7 L395.5,225.7 L395.6,224.7 L395.8,223.8 L396.0,222.8 L396.2,221.8 L396.4,220.8 L396.6,219.8 L396.8,218.9 L397.0,217.9 L397.2,216.9 L397.4,215.9 L397.5,214.9 L397.7,213.9 L397.9,213.0 L398.1,212.0 L398.3,211.0 L398.5,210.0 L398.7,209.0 L398.9,208.1 L399.1,207.1 L399.3,206.1 L399.5,205.1 L399.7,204.1 L399.9,203.2 L400.1,202.2 L400.3,201.2 L400.5,200.2 L400.7,199.2 L400.9,198.3 L401.1,197.3 L401.2,196.3 L401.4,195.3 L401.6,194.3 L401.8,193.4 L402.0,192.4 L402.2,191.4 L402.4,190.4 L402.6,189.4 L402.8,188.5 L403.0,187.5 L403.3,186.5 L403.5,185.5 L403.7,184.5 L403.9,183.6 L404.1,182.6 L404.3,181.6 L404.5,180.6 L404.7,179.6 L404.9,178.7 L405.1,177.7 L405.3,176.7 L405.5,175.7 L405.7,174.7 L405.9,173.8 L406.1,172.8 L406.3,171.8 L406.6,170.8 L406.8,169.9 L407.0,168.9 L407.2,167.9 L407.4,166.9 L407.6,166.0 L407.8,165.0 L408.0,164.0 L408.3,163.0 L408.5,162.0 L408.7,161.1 L408.9,160.1 L409.1,159.1 L409.3,158.1 L409.6,157.2 L409.8,156.2 L410.0,155.2 L410.2,154.2 L410.5,153.3 L410.7,152.3 L410.9,151.3 L411.1,150.3 L411.4,149.4 L411.6,148.4 L411.8,147.4 L412.0,146.4 L412.3,145.5 L412.5,144.5 L412.7,143.5 L413.0,142.6 L413.2,141.6 L413.4,140.6 L413.7,139.6 L413.9,138.7 L414.2,137.7 L414.4,136.7 L414.6,135.8 L414.9,134.8 L415.1,133.8 L415.4,132.8 L415.6,131.9 L415.9,130.9 L416.1,129.9 L416.4,129.0 L416.6,128.0 L416.9,127.0 L417.1,126.1 L417.4,125.1 L417.6,124.1 L417.9,123.2 L418.2,122.2 L418.4,121.2 L418.7,120.3 L419.0,119.3 L419.2,118.4 L419.5,117.4 L419.8,116.4 L420.0,115.5 L420.3,114.5 L420.6,113.5 L420.9,112.6 L421.2,111.6 L421.5,110.7 L421.7,109.7 L422.0,108.8 L422.3,107.8 L422.6,106.8 L422.9,105.9 L423.2,104.9 L423.5,104.0 L423.8,103.0 L424.2,102.1 L424.5,101.1 L424.8,100.2 L425.1,99.2 L425.5,98.3 L425.8,97.4 L426.1,96.4 L426.5,95.5 L426.8,94.5 L427.2,93.6 L427.5,92.7 L427.9,91.7 L428.3,90.8 L428.6,89.9 L429.0,89.0 L429.4,88.0 L429.8,87.1 L430.2,86.2 L430.6,85.3 L431.1,84.4 L431.5,83.5 L432.0,82.6 L432.4,81.7 L432.9,80.8 L433.4,80.0 L433.9,79.1 L434.4,78.3 L435.0,77.4 L435.5,76.6 L436.1,75.8 L436.7,75.0 L437.4,74.3 L438.1,73.5 L438.8,72.9 L439.6,72.2 L440.5,71.7 L441.4,71.3 L442.3,71.0 L443.3,70.9 L444.3,71.0 L445.3,71.3 L446.1,71.8 L446.9,72.4 L447.7,73.1 L448.3,73.9 L449.0,74.6 L449.6,75.4 L450.1,76.2 L450.7,77.1 L451.2,77.9 L451.7,78.8 L452.2,79.7 L452.7,80.6 L453.1,81.5 L453.6,82.3 L454.0,83.3 L454.4,84.2 L454.8,85.1 L455.2,86.0 L455.6,86.9 L456.0,87.8 L456.4,88.8 L456.7,89.7 L457.1,90.6 L457.4,91.6 L457.8,92.5 L458.1,93.4 L458.5,94.4 L458.8,95.3 L459.1,96.3 L459.4,97.2 L459.8,98.2 L460.1,99.1 L460.4,100.1 L460.7,101.0 L461.0,102.0 L461.3,102.9 L461.6,103.9 L461.9,104.8 L462.2,105.8 L462.4,106.8 L462.7,107.7 L463.0,108.7 L463.3,109.6 L463.6,110.6 L463.8,111.6 L464.1,112.5 L464.4,113.5 L464.6,114.4 L464.9,115.4 L465.2,116.4 L465.4,117.3 L465.7,118.3 L465.9,119.3 L466.2,120.2 L466.4,121.2 L466.7,122.2 L466.9,123.2 L467.2,124.1 L467.4,125.1 L467.7,126.1 L467.9,127.0 L468.2,128.0 L468.4,129.0 L468.6,129.9 L468.9,130.9 L469.1,131.9 L469.3,132.9 L469.6,133.8 L469.8,134.8 L470.0,135.8 L470.2,136.8 L470.5,137.7 L470.7,138.7 L470.9,139.7 L471.1,140.7 L471.4,141.6 L471.6,142.6 L471.8,143.6 L472.0,144.6 L472.2,145.5 L472.5,146.5 L472.7,147.5 L472.9,148.5 L473.1,149.4 L473.3,150.4 L473.5,151.4 L473.7,152.4 L473.9,153.3 L474.1,154.3 L474.3,155.3 L474.5,156.3 L474.8,157.3 L475.0,158.2 L475.2,159.2 L475.4,160.2 L475.6,161.2 L475.8,162.2 L476.0,163.1 L476.2,164.1 L476.4,165.1 L476.6,166.1 L476.8,167.1 L477.0,168.0 L477.1,169.0 L477.3,170.0 L477.5,171.0 L477.7,172.0 L477.9,172.9 L478.1,173.9 L478.3,174.9 L478.5,175.9 L478.7,176.9 L478.9,177.9 L479.1,178.8 L479.3,179.8 L479.4,180.8 L479.6,181.8 L479.8,182.8 L480.0,183.7 L480.2,184.7 L480.4,185.7 L480.6,186.7 L480.7,187.7 L480.9,188.7 L481.1,189.6 L481.3,190.6 L481.5,191.6 L481.6,192.6 L481.8,193.6 L482.0,194.6 L482.2,195.5 L482.4,196.5 L482.5,197.5 L482.7,198.5 L482.9,199.5 L483.1,200.5 L483.2,201.5 L483.4,202.4 L483.6,203.4 L483.8,204.4 L483.9,205.4 L484.1,206.4 L484.3,207.4 L484.5,208.3 L484.6,209.3 L484.8,210.3 L485.0,211.3 L485.2,212.3 L485.3,213.3 L485.5,214.3 L485.7,215.2 L485.8,216.2 L486.0,217.2 L486.2,218.2 L486.3,219.2 L486.5,220.2 L486.7,221.2 L486.8,222.1 L487.0,223.1 L487.2,224.1 L487.3,225.1 L487.5,226.1 L487.7,227.1 L487.8,228.1 L488.0,229.0 L488.2,230.0 L488.3,231.0 L488.5,232.0 L488.7,233.0 L488.8,234.0 L489.0,235.0 L489.2,236.0 L489.3,236.9 L489.5,237.9 L489.6,238.9 L489.8,239.9 L490.0,240.9 L490.1,241.9 L490.3,242.9 L490.4,243.8 L490.6,244.8 L490.8,245.8 L490.9,246.8 L491.1,247.8 L491.2,248.8 L491.4,249.8 L491.6,250.8 L491.7,251.7 L491.9,252.7 L492.0,253.7 L492.2,254.7 L492.4,255.7 L492.5,256.7 L492.7,257.7 L492.8,258.7 L493.0,259.6 L493.1,260.6 L493.3,261.6 L493.4,262.6 L493.6,263.6 L493.8,264.6 L493.9,265.6 L494.1,266.6 L494.2,267.5 L494.4,268.5 L494.5,269.5 L494.7,270.5 L494.8,271.5 L495.0,272.5 L495.1,273.5 L495.3,274.5 L495.4,275.5 L495.6,276.4 L495.7,277.4 L495.9,278.4 L496.1,279.4 L496.2,280.4 L496.4,281.4 L496.5,282.4 L496.7,283.4 L496.8,284.3 L497.0,285.3 L497.1,286.3 L497.3,287.3 L497.4,288.3 L497.6,289.3 L497.7,290.3 L497.9,291.3 L498.0,292.3 L498.2,293.2 L498.3,294.2 L498.5,295.2 L498.6,296.2 L498.8,297.2 L498.9,298.2 L499.0,299.2 L499.2,300.2 L499.3,301.2 L499.5,302.1 L499.6,303.1 L499.8,304.1 L499.9,305.1 L500.1,306.1 L500.2,307.1 L500.4,308.1 L500.5,309.1 L500.7,310.1 L500.8,311.1 L501.0,312.0 L501.1,313.0 L501.3,314.0 L501.4,315.0 L501.5,316.0 L501.7,317.0 L501.8,318.0 L502.0,319.0 L502.1,320.0 L502.3,320.9 L502.4,321.9 L502.6,322.9 L502.7,323.9 L502.9,324.9 L503.0,325.9 L503.1,326.9 L503.3,327.9 L503.4,328.9 L503.6,329.8 L503.7,330.8 L503.9,331.8 L504.0,332.8 L504.2,333.8 L504.3,334.8 L504.4,335.8 L504.6,336.8 L504.7,337.8 L504.9,338.8 L505.0,339.7 L505.2,340.7 L505.3,341.7 L505.4,342.7 L505.6,343.7 L505.7,344.7 L505.9,345.7 L506.0,346.7 L506.2,347.7 L506.3,348.7 L506.4,349.6 L506.6,350.6 L506.7,351.6 L506.9,352.6 L507.0,353.6 L507.2,354.6 L507.3,355.6 L507.4,356.6 L507.6,357.6 L507.7,358.5 L507.9,359.5 L508.0,360.5 L508.2,361.5 L508.3,362.5 L508.4,363.5 L508.6,364.5 L508.7,365.5 L508.9,366.5 L509.0,367.5 L509.2,368.4 L509.3,369.4 L509.4,370.4 L509.6,371.4 L509.7,372.4 L509.9,373.4 L510.0,374.4 L510.1,375.4 L510.3,376.4 L510.4,377.4 L510.6,378.3 L510.7,379.3 L510.9,380.3 L511.0,381.3 L511.1,382.3 L511.3,383.3 L511.4,384.3 L511.6,385.3 L511.7,386.3 L511.8,387.3 L512.0,388.2 L512.1,389.2 L512.3,390.2 L512.4,391.2 L512.6,392.2 L512.7,393.2 L512.8,394.2 L513.0,395.2 L513.1,396.2 L513.3,397.2 L513.4,398.1 L513.5,399.1 L513.7,400.1 L513.8,401.1 L514.0,402.1 L514.1,403.1 L514.3,404.1 L514.4,405.1 L514.5,406.1 L514.7,407.1 L514.8,408.0 L515.0,409.0 L515.1,410.0 L515.2,411.0 L515.4,412.0 L515.5,413.0 L515.7,414.0 L515.8,415.0 L516.0,416.0 L516.1,417.0 L516.2,417.9 L516.4,418.9 L516.5,419.9 L516.7,420.9 L516.8,421.9 L517.0,422.9 L517.1,423.9 L517.2,424.9 L517.4,425.9 L517.5,426.9 L517.7,427.8 L517.8,428.8 L518.0,429.8 L518.1,430.8 L518.2,431.8 L518.4,432.8 L518.5,433.8 L518.7,434.8 L518.8,435.8 L519.0,436.7 L519.1,437.7 L519.3,438.7 L519.4,439.7 L519.5,440.7 L519.7,441.7 L519.8,442.7 L520.0,443.7 L520.1,444.7 L520.3,445.7 L520.4,446.6 L520.6,447.6 L520.7,448.6 L520.8,449.6 L521.0,450.6 L521.1,451.6 L521.3,452.6 L521.4,453.6 L521.6,454.6 L521.7,455.5 L521.9,456.5 L522.0,457.5 L522.2,458.5 L522.3,459.5 L522.5,460.5 L522.6,461.5 L522.8,462.5 L522.9,463.5 L523.0,464.4 L523.2,465.4 L523.3,466.4 L523.5,467.4 L523.6,468.4 L523.8,469.4 L523.9,470.4 L524.1,471.4 L524.2,472.4 L524.4,473.3 L524.5,474.3 L524.7,475.3 L524.8,476.3 L525.0,477.3 L525.1,478.3 L525.3,479.3 L525.4,480.3 L525.6,481.3 L525.7,482.2 L525.9,483.2 L526.0,484.2 L526.2,485.2 L526.4,486.2 L526.5,487.2 L526.7,488.2 L526.8,489.2 L527.0,490.2 L527.1,491.1 L527.3,492.1 L527.4,493.1 L527.6,494.1 L527.7,495.1 L527.9,496.1 L528.1,497.1 L528.2,498.1 L528.4,499.0 L528.5,500.0 L528.7,501.0 L528.8,502.0 L529.0,503.0 L529.2,504.0 L529.3,505.0 L529.5,506.0 L529.6,506.9 L529.8,507.9 L529.9,508.9 L530.1,509.9 L530.3,510.9 L530.4,511.9 L530.6,512.9 L530.8,513.8 L530.9,514.8 L531.1,515.8 L531.2,516.8 L531.4,517.8 L531.6,518.8 L531.7,519.8 L531.9,520.8 L532.1,521.7 L532.2,522.7 L532.4,523.7 L532.6,524.7 L532.7,525.7 L532.9,526.7 L533.1,527.7 L533.2,528.6 L533.4,529.6 L533.6,530.6 L533.7,531.6 L533.9,532.6 L534.1,533.6 L534.3,534.6 L534.4,535.5 L534.6,536.5 L534.8,537.5 L535.0,538.5 L535.1,539.5 L535.3,540.5 L535.5,541.4 L535.7,542.4 L535.8,543.4 L536.0,544.4 L536.2,545.4 L536.4,546.4 L536.6,547.3 L536.7,548.3 L536.9,549.3 L537.1,550.3 L537.3,551.3 L537.5,552.3 L537.7,553.2 L537.8,554.2 L538.0,555.2 L538.2,556.2 L538.4,557.2 L538.6,558.2 L538.8,559.1 L539.0,560.1 L539.2,561.1 L539.4,562.1 L539.6,563.1 L539.8,564.0 L540.0,565.0 L540.1,566.0 L540.3,567.0 L540.5,568.0 L540.7,568.9 L540.9,569.9 L541.1,570.9 L541.4,571.9 L541.6,572.9 L541.8,573.8 L542.0,574.8 L542.2,575.8 L542.4,576.8 L542.6,577.8 L542.8,578.7 L543.0,579.7 L543.2,580.7 L543.5,581.7 L543.7,582.6 L543.9,583.6 L544.1,584.6 L544.3,585.6 L544.6,586.5 L544.8,587.5 L545.0,588.5 L545.2,589.5 L545.5,590.4 L545.7,591.4 L545.9,592.4 L546.2,593.4 L546.4,594.3 L546.6,595.3 L546.9,596.3 L547.1,597.2 L547.4,598.2 L547.6,599.2 L547.9,600.1 L548.1,601.1 L548.4,602.1 L548.6,603.0 L548.9,604.0 L549.2,605.0 L549.4,605.9 L549.7,606.9 L550.0,607.9 L550.2,608.8 L550.5,609.8 L550.8,610.7 L551.1,611.7 L551.4,612.7 L551.6,613.6 L551.9,614.6 L552.2,615.5 L552.5,616.5 L552.8,617.4 L553.1,618.4 L553.4,619.3 L553.7,620.3 L554.1,621.2 L554.4,622.2 L554.7,623.1 L555.0,624.1 L555.4,625.0 L555.7,626.0 L556.1,626.9 L556.4,627.8 L556.8,628.8 L557.1,629.7 L557.5,630.6 L557.9,631.6 L558.2,632.5 L558.6,633.4 L559.0,634.3 L559.4,635.3 L559.8,636.2 L560.2,637.1 L560.6,638.0 L561.1,638.9 L561.5,639.8 L562.0,640.7 L562.4,641.6 L562.9,642.5 L563.4,643.3 L563.8,644.2 L564.3,645.1 L564.8,646.0 L565.3,646.8 L565.9,647.7 L566.4,648.5 L567.0,649.3 L567.5,650.2 L568.1,651.0 L568.7,651.8 L569.3,652.6 L569.9,653.4 L570.5,654.2 L571.1,654.9 L571.8,655.7 L572.5,656.4 L573.2,657.1 L573.9,657.8 L574.7,658.4 L575.5,658.9 L576.3,659.4 L577.2,659.8 L578.1,660.2 L579.0,660.3 L580.0,660.4 L581.0,660.4 L581.9,660.4 L582.9,660.3 L583.9,660.1 L584.9,659.9 L585.9,659.7 L586.8,659.5 L587.8,659.4 L588.8,659.2 L589.8,659.0 L590.8,658.8 L591.7,658.6 L592.7,658.4 L593.7,658.2 L594.7,658.0 L595.6,657.8 L596.6,657.6 L597.5,657.4 L598.3,657.2" fill="none" stroke="#5e5e64" stroke-width="3.5"/>
<path d="M202.6,650.6 L203.3,651.3 L204.1,651.9 L204.8,652.6 L205.6,653.3 L206.3,653.9 L207.1,654.6 L207.8,655.2 L208.6,655.9 L209.4,656.5 L210.1,657.2 L210.9,657.8 L211.7,658.4 L212.5,659.0 L213.3,659.6 L214.1,660.2 L214.9,660.8 L215.7,661.4 L216.5,661.9 L217.4,662.5 L218.2,663.1 L219.0,663.6 L219.9,664.1 L220.8,664.6 L221.6,665.1 L222.5,665.6 L223.4,666.0 L224.3,666.4 L225.2,666.8 L226.2,667.1 L227.1,667.5 L228.1,667.7 L229.0,668.0 L230.0,668.2 L231.0,668.3 L232.0,668.4 L232.9,668.4 L233.9,668.4 L234.9,668.3 L235.9,668.2 L236.9,668.1 L237.8,667.8 L238.8,667.6 L239.7,667.3 L240.7,666.9 L241.6,666.5 L242.4,666.1 L243.3,665.6 L244.1,665.1 L244.9,664.5 L245.7,663.9 L246.4,663.2 L247.1,662.5 L247.8,661.8 L248.4,661.0 L248.9,660.2 L249.5,659.3 L250.0,658.5 L250.4,657.6 L250.9,656.7 L251.3,655.8 L251.7,654.9 L252.0,653.9 L252.4,653.0 L252.8,652.1 L253.1,651.2 L253.5,650.2 L253.9,649.3 L254.3,648.4 L254.7,647.5 L255.2,646.6 L255.7,645.8 L256.1,644.9 L256.6,644.0 L257.1,643.1 L257.6,642.3 L258.0,641.4 L258.4,640.5 L258.8,639.5 L259.2,638.6 L259.6,637.7 L260.0,636.8 L260.3,635.8 L260.7,634.9 L261.0,634.0 L261.4,633.0 L261.7,632.1 L262.0,631.1 L262.3,630.2 L262.6,629.2 L262.9,628.3 L263.2,627.3 L263.4,626.3 L263.7,625.4 L263.9,624.4 L264.2,623.4 L264.4,622.5 L264.6,621.5 L264.9,620.5 L265.1,619.5 L265.3,618.6 L265.5,617.6 L265.7,616.6 L265.9,615.6 L266.1,614.7 L266.3,613.7 L266.5,612.7 L266.7,611.7 L266.9,610.7 L267.1,609.7 L267.2,608.8 L267.4,607.8 L267.6,606.8 L267.7,605.8 L267.9,604.8 L268.1,603.8 L268.2,602.8 L268.4,601.8 L268.5,600.9 L268.7,599.9 L268.8,598.9 L269.0,597.9 L269.1,596.9 L269.2,595.9 L269.4,594.9 L269.5,593.9 L269.6,592.9 L269.8,591.9 L269.9,591.0 L270.0,590.0 L270.2,589.0 L270.3,588.0 L270.4,587.0 L270.5,586.0 L270.6,585.0 L270.8,584.0 L270.9,583.0 L271.0,582.0 L271.1,581.0 L271.2,580.0 L271.3,579.0 L271.4,578.0 L271.5,577.1 L271.6,576.1 L271.7,575.1 L271.8,574.1 L271.9,573.1 L272.0,572.1 L272.1,571.1 L272.2,570.1 L272.3,569.1 L272.4,568.1 L272.5,567.1 L272.6,566.1 L272.7,565.1 L272.8,564.1 L272.9,563.1 L273.0,562.1 L273.1,561.1 L273.2,560.1 L273.2,559.1 L273.3,558.1 L273.4,557.1 L273.5,556.1 L273.6,555.1 L273.7,554.2 L273.7,553.2 L273.8,552.2 L273.9,551.2 L274.0,550.2 L274.1,549.2 L274.1,548.2 L274.2,547.2 L274.3,546.2 L274.4,545.2 L274.4,544.2 L274.5,543.2 L274.6,542.2 L274.7,541.2 L274.7,540.2 L274.8,539.2 L274.9,538.2 L275.0,537.2 L275.0,536.2 L275.1,535.2 L275.2,534.2 L275.2,533.2 L275.3,532.2 L275.4,531.2 L275.4,530.2 L275.5,529.2 L275.6,528.2 L275.6,527.2 L275.7,526.2 L275.8,525.2 L275.8,524.2 L275.9,523.2 L276.0,522.2 L276.0,521.2 L276.1,520.2 L276.1,519.2 L276.2,518.2 L276.3,517.2 L276.3,516.2 L276.4,515.2 L276.4,514.2 L276.5,513.2 L276.6,512.3 L276.6,511.3 L276.7,510.3 L276.7,509.3 L276.8,508.3 L276.9,507.3 L276.9,506.3 L277.0,505.3 L277.0,504.3 L277.1,503.3 L277.1,502.3 L277.2,501.3 L277.2,500.3 L277.3,499.3 L277.4,498.3 L277.4,497.3 L277.5,496.3 L277.5,495.3 L277.6,494.3 L277.6,493.3 L277.7,492.3 L277.7,491.3 L277.8,490.3 L277.8,489.3 L277.9,488.3 L277.9,487.3 L278.0,486.3 L278.0,485.3 L278.1,484.3 L278.1,483.3 L278.2,482.3 L278.2,481.3 L278.3,480.3 L278.3,479.3 L278.4,478.3 L278.4,477.3 L278.5,476.3 L278.5,475.3 L278.6,474.3 L278.6,473.3 L278.7,472.3 L278.7,471.3 L278.8,470.3 L278.8,469.3 L278.9,468.3 L278.9,467.3 L278.9,466.3 L279.0,465.3 L279.0,464.3 L279.1,463.3 L279.1,462.3 L279.2,461.3 L279.2,460.3 L279.3,459.3 L279.3,458.3 L279.3,457.3 L279.4,456.3 L279.4,455.3 L279.5,454.3 L279.5,453.3 L279.6,452.3 L279.6,451.3 L279.7,450.3 L279.7,449.3 L279.7,448.3 L279.8,447.3 L279.8,446.3 L279.9,445.3 L279.9,444.3 L280.0,443.3 L280.0,442.3 L280.0,441.3 L280.1,440.3 L280.1,439.3 L280.2,438.3 L280.2,437.3 L280.2,436.3 L280.3,435.3 L280.3,434.3 L280.4,433.3 L280.4,432.3 L280.4,431.3 L280.5,430.3 L280.5,429.3 L280.6,428.3 L280.6,427.3 L280.6,426.3 L280.7,425.4 L280.7,424.4 L280.8,423.4 L280.8,422.4 L280.8,421.4 L280.9,420.4 L280.9,419.4 L281.0,418.4 L281.0,417.4 L281.0,416.4 L281.1,415.4 L281.1,414.4 L281.1,413.4 L281.2,412.4 L281.2,411.4 L281.3,410.4 L281.3,409.4 L281.3,408.4 L281.4,407.4 L281.4,406.4 L281.5,405.4 L281.5,404.4 L281.5,403.4 L281.6,402.4 L281.6,401.4 L281.6,400.4 L281.7,399.4 L281.7,398.4 L281.7,397.4 L281.8,396.4 L281.8,395.4 L281.9,394.4 L281.9,393.4 L281.9,392.4 L282.0,391.4 L282.0,390.4 L282.0,389.4 L282.1,388.4 L282.1,387.4 L282.1,386.4 L282.2,385.4 L282.2,384.4 L282.3,383.4 L282.3,382.4 L282.3,381.4 L282.4,380.4 L282.4,379.4 L282.4,378.4 L282.5,377.4 L282.5,376.4 L282.5,375.4 L282.6,374.4 L282.6,373.4 L282.6,372.4 L282.7,371.4 L282.7,370.4 L282.7,369.4 L282.8,368.4 L282.8,367.4 L282.9,366.4 L282.9,365.4 L282.9,364.4 L283.0,363.4 L283.0,362.4 L283.0,361.4 L283.1,360.4 L283.1,359.4 L283.1,358.4 L283.2,357.4 L283.2,356.4 L283.2,355.4 L283.3,354.4 L283.3,353.4 L283.3,352.4 L283.4,351.4 L283.4,350.4 L283.4,349.4 L283.5,348.4 L283.5,347.4 L283.5,346.4 L283.6,345.4 L283.6,344.4 L283.6,343.4 L283.7,342.4 L283.7,341.4 L283.7,340.4 L283.8,339.4 L283.8,338.4 L283.8,337.4 L283.9,336.4 L283.9,335.4 L283.9,334.4 L284.0,333.4 L284.0,332.4 L284.0,331.4 L284.1,330.4 L284.1,329.4 L284.1,328.4 L284.2,327.4 L284.2,326.4 L284.2,325.4 L284.3,324.4 L284.3,323.4 L284.3,322.4 L284.4,321.4 L284.4,320.4 L284.4,319.4 L284.5,318.4 L284.5,317.4 L284.5,316.4 L284.6,315.4 L284.6,314.4 L284.6,313.4 L284.7,312.4 L284.7,311.4 L284.7,310.4 L284.8,309.4 L284.8,308.4 L284.8,307.4 L284.9,306.4 L284.9,305.4 L284.9,304.4 L285.0,303.4 L285.0,302.4 L285.0,301.4 L285.1,300.4 L285.1,299.4 L285.1,298.4 L285.2,297.4 L285.2,296.4 L285.2,295.4 L285.3,294.4 L285.3,293.4 L285.3,292.4 L285.4,291.4 L285.4,290.4 L285.4,289.4 L285.5,288.4 L285.5,287.4 L285.5,286.4 L285.6,285.4 L285.6,284.4 L285.6,283.4 L285.7,282.4 L285.7,281.4 L285.7,280.4 L285.8,279.4 L285.8,278.4 L285.8,277.4 L285.9,276.4 L285.9,275.4 L285.9,274.4 L286.0,273.4 L286.0,272.4 L286.1,271.4 L286.1,270.4 L286.1,269.4 L286.2,268.4 L286.2,267.4 L286.2,266.4 L286.3,265.4 L286.3,264.4 L286.3,263.4 L286.4,262.4 L286.4,261.5 L286.4,260.5 L286.5,259.5 L286.5,258.5 L286.5,257.5 L286.6,256.5 L286.6,255.5 L286.6,254.5 L286.7,253.5 L286.7,252.5 L286.7,251.5 L286.8,250.5 L286.8,249.5 L286.8,248.5 L286.9,247.5 L286.9,246.5 L286.9,245.5 L287.0,244.5 L287.0,243.5 L287.1,242.5 L287.1,241.5 L287.1,240.5 L287.2,239.5 L287.2,238.5 L287.2,237.5 L287.3,236.5 L287.3,235.5 L287.3,234.5 L287.4,233.5 L287.4,232.5 L287.4,231.5 L287.5,230.5 L287.5,229.5 L287.6,228.5 L287.6,227.5 L287.6,226.5 L287.7,225.5 L287.7,224.5 L287.7,223.5 L287.8,222.5 L287.8,221.5 L287.8,220.5 L287.9,219.5 L287.9,218.5 L288.0,217.5 L288.0,216.5 L288.0,215.5 L288.1,214.5 L288.1,213.5 L288.1,212.5 L288.2,211.5 L288.2,210.5 L288.3,209.5 L288.3,208.5 L288.3,207.5 L288.4,206.5 L288.4,205.5 L288.4,204.5 L288.5,203.5 L288.5,202.5 L288.6,201.5 L288.6,200.5 L288.6,199.5 L288.7,198.5 L288.7,197.5 L288.8,196.5 L288.8,195.5 L288.8,194.5 L288.9,193.5 L288.9,192.5 L289.0,191.5 L289.0,190.5 L289.0,189.5 L289.1,188.5 L289.1,187.5 L289.2,186.5 L289.2,185.5 L289.3,184.5 L289.3,183.5 L289.3,182.5 L289.4,181.5 L289.4,180.5 L289.5,179.5 L289.5,178.5 L289.5,177.5 L289.6,176.5 L289.6,175.5 L289.7,174.5 L289.7,173.5 L289.8,172.5 L289.8,171.5 L289.9,170.5 L289.9,169.5 L289.9,168.5 L290.0,167.5 L290.0,166.5 L290.1,165.5 L290.1,164.5 L290.2,163.5 L290.2,162.5 L290.3,161.5 L290.3,160.5 L290.4,159.5 L290.4,158.5 L290.5,157.5 L290.5,156.5 L290.6,155.5 L290.6,154.5 L290.7,153.5 L290.7,152.5 L290.8,151.5 L290.8,150.5 L290.9,149.5 L290.9,148.5 L291.0,147.5 L291.0,146.5 L291.1,145.5 L291.1,144.5 L291.2,143.5 L291.2,142.5 L291.3,141.6 L291.3,140.6 L291.4,139.6 L291.4,138.6 L291.5,137.6 L291.5,136.6 L291.6,135.6 L291.7,134.6 L291.7,133.6 L291.8,132.6 L291.8,131.6 L291.9,130.6 L292.0,129.6 L292.0,128.6 L292.1,127.6 L292.1,126.6 L292.2,125.6 L292.3,124.6 L292.3,123.6 L292.4,122.6 L292.5,121.6 L292.5,120.6 L292.6,119.6 L292.7,118.6 L292.7,117.6 L292.8,116.6 L292.9,115.6 L292.9,114.6 L293.0,113.6 L293.1,112.6 L293.1,111.6 L293.2,110.6 L293.3,109.6 L293.4,108.6 L293.5,107.6 L293.5,106.6 L293.6,105.6 L293.7,104.6 L293.8,103.6 L293.9,102.6 L294.0,101.6 L294.1,100.6 L294.1,99.7 L294.2,98.7 L294.3,97.7 L294.4,96.7 L294.5,95.7 L294.6,94.7 L294.8,93.7 L294.9,92.7 L295.0,91.7 L295.1,90.7 L295.2,89.7 L295.3,88.7 L295.5,87.7 L295.6,86.7 L295.8,85.7 L295.9,84.8 L296.1,83.8 L296.2,82.8 L296.4,81.8 L296.6,80.8 L296.8,79.8 L297.0,78.9 L297.3,77.9 L297.6,77.0 L298.0,76.0 L298.5,75.2 L299.4,74.8 L300.3,75.3 L300.9,76.1 L301.4,76.9 L301.8,77.8 L302.2,78.8 L302.5,79.7 L302.8,80.7 L303.1,81.6 L303.4,82.6 L303.7,83.5 L303.9,84.5 L304.1,85.5 L304.4,86.5 L304.6,87.4 L304.8,88.4 L305.0,89.4 L305.2,90.4 L305.4,91.4 L305.5,92.3 L305.7,93.3 L305.9,94.3 L306.1,95.3 L306.2,96.3 L306.4,97.3 L306.6,98.3 L306.7,99.2 L306.9,100.2 L307.0,101.2 L307.2,102.2 L307.3,103.2 L307.5,104.2 L307.6,105.2 L307.8,106.2 L307.9,107.2 L308.0,108.1 L308.2,109.1 L308.3,110.1 L308.4,111.1 L308.6,112.1 L308.7,113.1 L308.8,114.1 L309.0,115.1 L309.1,116.1 L309.2,117.1 L309.3,118.1 L309.5,119.1 L309.6,120.0 L309.7,121.0 L309.8,122.0 L309.9,123.0 L310.0,124.0 L310.2,125.0 L310.3,126.0 L310.4,127.0 L310.5,128.0 L310.6,129.0 L310.7,130.0 L310.8,131.0 L310.9,132.0 L311.0,133.0 L311.2,134.0 L311.3,135.0 L311.4,135.9 L311.5,136.9 L311.6,137.9 L311.7,138.9 L311.8,139.9 L311.9,140.9 L312.0,141.9 L312.1,142.9 L312.2,143.9 L312.3,144.9 L312.4,145.9 L312.5,146.9 L312.6,147.9 L312.7,148.9 L312.8,149.9 L312.9,150.9 L313.0,151.9 L313.1,152.9 L313.2,153.9 L313.3,154.9 L313.4,155.8 L313.4,156.8 L313.5,157.8 L313.6,158.8 L313.7,159.8 L313.8,160.8 L313.9,161.8 L314.0,162.8 L314.1,163.8 L314.2,164.8 L314.3,165.8 L314.4,166.8 L314.5,167.8 L314.5,168.8 L314.6,169.8 L314.7,170.8 L314.8,171.8 L314.9,172.8 L315.0,173.8 L315.1,174.8 L315.2,175.8 L315.3,176.8 L315.3,177.8 L315.4,178.8 L315.5,179.8 L315.6,180.7 L315.7,181.7 L315.8,182.7 L315.9,183.7 L315.9,184.7 L316.0,185.7 L316.1,186.7 L316.2,187.7 L316.3,188.7 L316.4,189.7 L316.4,190.7 L316.5,191.7 L316.6,192.7 L316.7,193.7 L316.8,194.7 L316.9,195.7 L316.9,196.7 L317.0,197.7 L317.1,198.7 L317.2,199.7 L317.3,200.7 L317.3,201.7 L317.4,202.7 L317.5,203.7 L317.6,204.7 L317.7,205.7 L317.7,206.7 L317.8,207.7 L317.9,208.7 L318.0,209.6 L318.1,210.6 L318.1,211.6 L318.2,212.6 L318.3,213.6 L318.4,214.6 L318.5,215.6 L318.5,216.6 L318.6,217.6 L318.7,218.6 L318.8,219.6 L318.8,220.6 L318.9,221.6 L319.0,222.6 L319.1,223.6 L319.2,224.6 L319.2,225.6 L319.3,226.6 L319.4,227.6 L319.5,228.6 L319.5,229.6 L319.6,230.6 L319.7,231.6 L319.8,232.6 L319.8,233.6 L319.9,234.6 L320.0,235.6 L320.1,236.6 L320.1,237.6 L320.2,238.6 L320.3,239.6 L320.4,240.6 L320.4,241.6 L320.5,242.6 L320.6,243.5 L320.7,244.5 L320.7,245.5 L320.8,246.5 L320.9,247.5 L321.0,248.5 L321.0,249.5 L321.1,250.5 L321.2,251.5 L321.3,252.5 L321.3,253.5 L321.4,254.5 L321.5,255.5 L321.6,256.5 L321.6,257.5 L321.7,258.5 L321.8,259.5 L321.9,260.5 L321.9,261.5 L322.0,262.5 L322.1,263.5 L322.2,264.5 L322.2,265.5 L322.3,266.5 L322.4,267.5 L322.4,268.5 L322.5,269.5 L322.6,270.5 L322.7,271.5 L322.7,272.5 L322.8,273.5 L322.9,274.5 L323.0,275.5 L323.0,276.5 L323.1,277.5 L323.2,278.5 L323.2,279.5 L323.3,280.4 L323.4,281.4 L323.5,282.4 L323.5,283.4 L323.6,284.4 L323.7,285.4 L323.7,286.4 L323.8,287.4 L323.9,288.4 L324.0,289.4 L324.0,290.4 L324.1,291.4 L324.2,292.4 L324.3,293.4 L324.3,294.4 L324.4,295.4 L324.5,296.4 L324.5,297.4 L324.6,298.4 L324.7,299.4 L324.8,300.4 L324.8,301.4 L324.9,302.4 L325.0,303.4 L325.0,304.4 L325.1,305.4 L325.2,306.4 L325.3,307.4 L325.3,308.4 L325.4,309.4 L325.5,310.4 L325.5,311.4 L325.6,312.4 L325.7,313.4 L325.8,314.4 L325.8,315.4 L325.9,316.4 L326.0,317.4 L326.0,318.4 L326.1,319.3 L326.2,320.3 L326.2,321.3 L326.3,322.3 L326.4,323.3 L326.5,324.3 L326.5,325.3 L326.6,326.3 L326.7,327.3 L326.7,328.3 L326.8,329.3 L326.9,330.3 L327.0,331.3 L327.0,332.3 L327.1,333.3 L327.2,334.3 L327.2,335.3 L327.3,336.3 L327.4,337.3 L327.5,338.3 L327.5,339.3 L327.6,340.3 L327.7,341.3 L327.7,342.3 L327.8,343.3 L327.9,344.3 L328.0,345.3 L328.0,346.3 L328.1,347.3 L328.2,348.3 L328.2,349.3 L328.3,350.3 L328.4,351.3 L328.5,352.3 L328.5,353.3 L328.6,354.3 L328.7,355.3 L328.7,356.3 L328.8,357.3 L328.9,358.3 L329.0,359.2 L329.0,360.2 L329.1,361.2 L329.2,362.2 L329.2,363.2 L329.3,364.2 L329.4,365.2 L329.5,366.2 L329.5,367.2 L329.6,368.2 L329.7,369.2 L329.7,370.2 L329.8,371.2 L329.9,372.2 L330.0,373.2 L330.0,374.2 L330.1,375.2 L330.2,376.2 L330.2,377.2 L330.3,378.2 L330.4,379.2 L330.5,380.2 L330.5,381.2 L330.6,382.2 L330.7,383.2 L330.8,384.2 L330.8,385.2 L330.9,386.2 L331.0,387.2 L331.0,388.2 L331.1,389.2 L331.2,390.2 L331.3,391.2 L331.3,392.2 L331.4,393.2 L331.5,394.2 L331.6,395.2 L331.6,396.2 L331.7,397.1 L331.8,398.1 L331.8,399.1 L331.9,400.1 L332.0,401.1 L332.1,402.1 L332.1,403.1 L332.2,404.1 L332.3,405.1 L332.4,406.1 L332.4,407.1 L332.5,408.1 L332.6,409.1 L332.7,410.1 L332.7,411.1 L332.8,412.1 L332.9,413.1 L333.0,414.1 L333.0,415.1 L333.1,416.1 L333.2,417.1 L333.3,418.1 L333.3,419.1 L333.4,420.1 L333.5,421.1 L333.6,422.1 L333.6,423.1 L333.7,424.1 L333.8,425.1 L333.9,426.1 L333.9,427.1 L334.0,428.1 L334.1,429.1 L334.2,430.1 L334.2,431.1 L334.3,432.1 L334.4,433.0 L334.5,434.0 L334.5,435.0 L334.6,436.0 L334.7,437.0 L334.8,438.0 L334.8,439.0 L334.9,440.0 L335.0,441.0 L335.1,442.0 L335.2,443.0 L335.2,444.0 L335.3,445.0 L335.4,446.0 L335.5,447.0 L335.5,448.0 L335.6,449.0 L335.7,450.0 L335.8,451.0 L335.9,452.0 L335.9,453.0 L336.0,454.0 L336.1,455.0 L336.2,456.0 L336.2,457.0 L336.3,458.0 L336.4,459.0 L336.5,460.0 L336.6,461.0 L336.6,462.0 L336.7,463.0 L336.8,464.0 L336.9,464.9 L337.0,465.9 L337.0,466.9 L337.1,467.9 L337.2,468.9 L337.3,469.9 L337.4,470.9 L337.5,471.9 L337.5,472.9 L337.6,473.9 L337.7,474.9 L337.8,475.9 L337.9,476.9 L337.9,477.9 L338.0,478.9 L338.1,479.9 L338.2,480.9 L338.3,481.9 L338.4,482.9 L338.4,483.9 L338.5,484.9 L338.6,485.9 L338.7,486.9 L338.8,487.9 L338.9,488.9 L339.0,489.9 L339.0,490.9 L339.1,491.9 L339.2,492.9 L339.3,493.8 L339.4,494.8 L339.5,495.8 L339.6,496.8 L339.6,497.8 L339.7,498.8 L339.8,499.8 L339.9,500.8 L340.0,501.8 L340.1,502.8 L340.2,503.8 L340.2,504.8 L340.3,505.8 L340.4,506.8 L340.5,507.8 L340.6,508.8 L340.7,509.8 L340.8,510.8 L340.9,511.8 L341.0,512.8 L341.1,513.8 L341.1,514.8 L341.2,515.8 L341.3,516.8 L341.4,517.8 L341.5,518.8 L341.6,519.7 L341.7,520.7 L341.8,521.7 L341.9,522.7 L342.0,523.7 L342.1,524.7 L342.2,525.7 L342.3,526.7 L342.4,527.7 L342.4,528.7 L342.5,529.7 L342.6,530.7 L342.7,531.7 L342.8,532.7 L342.9,533.7 L343.0,534.7 L343.1,535.7 L343.2,536.7 L343.3,537.7 L343.4,538.7 L343.5,539.7 L343.6,540.7 L343.7,541.6 L343.8,542.6 L343.9,543.6 L344.0,544.6 L344.1,545.6 L344.2,546.6 L344.3,547.6 L344.4,548.6 L344.5,549.6 L344.6,550.6 L344.7,551.6 L344.8,552.6 L344.9,553.6 L345.1,554.6 L345.2,555.6 L345.3,556.6 L345.4,557.6 L345.5,558.6 L345.6,559.5 L345.7,560.5 L345.8,561.5 L345.9,562.5 L346.0,563.5 L346.1,564.5 L346.2,565.5 L346.4,566.5 L346.5,567.5 L346.6,568.5 L346.7,569.5 L346.8,570.5 L346.9,571.5 L347.0,572.5 L347.2,573.5 L347.3,574.5 L347.4,575.4 L347.5,576.4 L347.6,577.4 L347.8,578.4 L347.9,579.4 L348.0,580.4 L348.1,581.4 L348.2,582.4 L348.4,583.4 L348.5,584.4 L348.6,585.4 L348.7,586.4 L348.9,587.4 L349.0,588.3 L349.1,589.3 L349.3,590.3 L349.4,591.3 L349.5,592.3 L349.7,593.3 L349.8,594.3 L349.9,595.3 L350.1,596.3 L350.2,597.3 L350.3,598.3 L350.5,599.2 L350.6,600.2 L350.8,601.2 L350.9,602.2 L351.0,603.2 L351.2,604.2 L351.3,605.2 L351.5,606.2 L351.6,607.2 L351.8,608.2 L351.9,609.1 L352.1,610.1 L352.2,611.1 L352.4,612.1 L352.6,613.1 L352.7,614.1 L352.9,615.1 L353.0,616.1 L353.2,617.0 L353.4,618.0 L353.5,619.0 L353.7,620.0 L353.9,621.0 L354.1,622.0 L354.2,622.9 L354.4,623.9 L354.6,624.9 L354.8,625.9 L355.0,626.9 L355.2,627.9 L355.4,628.8 L355.6,629.8 L355.8,630.8 L356.0,631.8 L356.2,632.8 L356.4,633.7 L356.6,634.7 L356.8,635.7 L357.0,636.7 L357.2,637.6 L357.5,638.6 L357.7,639.6 L357.9,640.6 L358.2,641.5 L358.4,642.5 L358.7,643.5 L359.0,644.4 L359.2,645.4 L359.5,646.4 L359.8,647.3 L360.1,648.3 L360.4,649.2 L360.7,650.2 L361.0,651.1 L361.3,652.1 L361.6,653.0 L362.0,654.0 L362.3,654.9 L362.7,655.8 L363.1,656.7 L363.4,657.4" fill="none" stroke="#f03cf0" stroke-width="3.5"/>
<text transform="translate(225.78,724.50) scale(1.1330,1)" font-size="36.0" fill="#111" xml:space="preserve">0</text><text transform="translate(363.13,724.50) scale(1.1330,1)" font-size="36.0" fill="#111" xml:space="preserve">5</text><path transform="translate(490.08,724.60) scale(0.01979,-0.01692)" d="M763,0 L583,0 L583,1147 C540,1106 483,1064 413,1023 C343,982 280,951 223,930 L223,1104 C326,1152 416,1211 493,1280 C570,1349 624,1416 656,1472 L763,1472 Z" fill="#111"/><text transform="translate(511.78,724.50) scale(1.1330,1)" font-size="36.0" fill="#111" xml:space="preserve">0</text><path transform="translate(631.98,724.60) scale(0.01979,-0.01692)" d="M763,0 L583,0 L583,1147 C540,1106 483,1064 413,1023 C343,982 280,951 223,930 L223,1104 C326,1152 416,1211 493,1280 C570,1349 624,1416 656,1472 L763,1472 Z" fill="#111"/><text transform="translate(653.48,724.50) scale(1.1330,1)" font-size="36.0" fill="#111" xml:space="preserve">5</text><text transform="translate(768.83,724.50) scale(1.1330,1)" font-size="36.0" fill="#111" xml:space="preserve">2</text><text transform="translate(790.78,724.50) scale(1.1330,1)" font-size="36.0" fill="#111" xml:space="preserve">0</text>
<text transform="translate(221.24,795.70) scale(0.9585,1)" font-size="36.0" fill="#1a1a1a" xml:space="preserve">Free</text><text transform="translate(301.03,795.70) scale(0.9295,1)" font-size="36.0" fill="#1a1a1a" xml:space="preserve">25(OH)D</text><text transform="translate(449.37,795.70) scale(0.9223,1)" font-size="36.0" fill="#1a1a1a" xml:space="preserve">concentration</text><text transform="translate(663.56,795.70) scale(0.9446,1)" font-size="36.0" fill="#1a1a1a" xml:space="preserve">(pg/mL)</text>
<text transform="translate(42.9,507.00) rotate(-90) scale(0.9797,1)" font-size="40.8" fill="#111">Relative</text><text transform="translate(42.9,352.44) rotate(-90) scale(0.9920,1)" font-size="40.8" fill="#111">Distribution</text>
<text transform="translate(644.13,173.20) scale(1.1081,1)" font-size="23.3" fill="#e46ae4" xml:space="preserve">Pregnant</text><text transform="translate(644.03,207.20) scale(1.1635,1)" font-size="23.3" fill="#6e9e52" xml:space="preserve">Normal</text><text transform="translate(644.80,242.00) scale(1.2015,1)" font-size="23.3" fill="#e8864a" xml:space="preserve">Cirrhotic</text><text transform="translate(644.17,276.20) scale(1.0884,1)" font-size="23.3" fill="#4e4e50" xml:space="preserve">Nursing Home</text>
</svg>
</body></html>
